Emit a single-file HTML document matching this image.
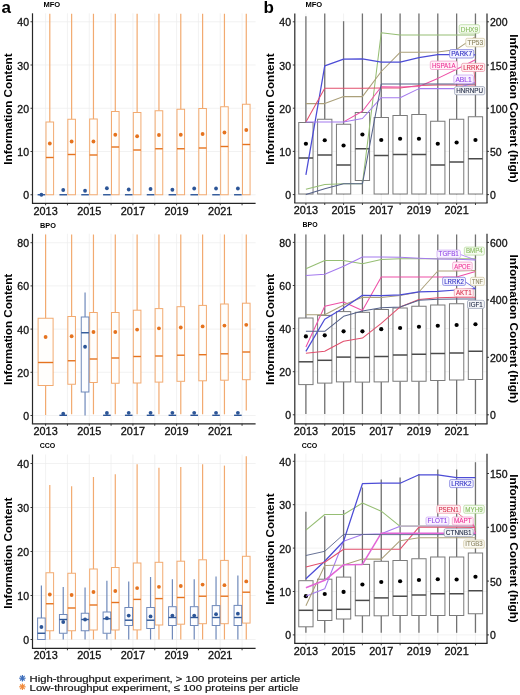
<!DOCTYPE html>
<html><head><meta charset="utf-8"><title>Information Content</title>
<style>html,body{margin:0;padding:0;background:#fff;} svg{display:block;will-change:transform;} text{font-family:"Liberation Sans", sans-serif;}</style>
</head><body>
<svg width="520" height="695" viewBox="0 0 520 695" font-family='"Liberation Sans", sans-serif'><rect x="0" y="0" width="520" height="695" fill="#fff"/>
<line x1="33.50" y1="194.75" x2="255.60" y2="194.75" stroke="#EDEDED" stroke-width="0.7" />
<line x1="33.50" y1="151.50" x2="255.60" y2="151.50" stroke="#EDEDED" stroke-width="0.7" />
<line x1="33.50" y1="108.25" x2="255.60" y2="108.25" stroke="#EDEDED" stroke-width="0.7" />
<line x1="33.50" y1="65.00" x2="255.60" y2="65.00" stroke="#EDEDED" stroke-width="0.7" />
<line x1="33.50" y1="21.75" x2="255.60" y2="21.75" stroke="#EDEDED" stroke-width="0.7" />
<line x1="45.60" y1="13.30" x2="45.60" y2="203.30" stroke="#EDEDED" stroke-width="0.7" />
<line x1="67.43" y1="13.30" x2="67.43" y2="203.30" stroke="#EDEDED" stroke-width="0.7" />
<line x1="89.26" y1="13.30" x2="89.26" y2="203.30" stroke="#EDEDED" stroke-width="0.7" />
<line x1="111.09" y1="13.30" x2="111.09" y2="203.30" stroke="#EDEDED" stroke-width="0.7" />
<line x1="132.92" y1="13.30" x2="132.92" y2="203.30" stroke="#EDEDED" stroke-width="0.7" />
<line x1="154.75" y1="13.30" x2="154.75" y2="203.30" stroke="#EDEDED" stroke-width="0.7" />
<line x1="176.58" y1="13.30" x2="176.58" y2="203.30" stroke="#EDEDED" stroke-width="0.7" />
<line x1="198.41" y1="13.30" x2="198.41" y2="203.30" stroke="#EDEDED" stroke-width="0.7" />
<line x1="220.24" y1="13.30" x2="220.24" y2="203.30" stroke="#EDEDED" stroke-width="0.7" />
<line x1="242.07" y1="13.30" x2="242.07" y2="203.30" stroke="#EDEDED" stroke-width="0.7" />
<line x1="49.80" y1="13.75" x2="49.80" y2="122.00" stroke="#F2AA70" stroke-width="1.2" />
<line x1="49.80" y1="194.75" x2="49.80" y2="194.75" stroke="#F2AA70" stroke-width="1.2" />
<rect x="46.00" y="122.00" width="7.60" height="72.75" stroke="#F2AA70" fill="#FFFEFC" stroke-width="1.0" rx="0"/>
<line x1="46.00" y1="157.50" x2="53.60" y2="157.50" stroke="#E5731F" stroke-width="1.4" />
<circle cx="49.80" cy="143.50" r="1.9" fill="#E5731F"/>
<line x1="71.63" y1="13.75" x2="71.63" y2="119.25" stroke="#F2AA70" stroke-width="1.2" />
<line x1="71.63" y1="194.75" x2="71.63" y2="194.75" stroke="#F2AA70" stroke-width="1.2" />
<rect x="67.83" y="119.25" width="7.60" height="75.50" stroke="#F2AA70" fill="#FFFEFC" stroke-width="1.0" rx="0"/>
<line x1="67.83" y1="154.50" x2="75.43" y2="154.50" stroke="#E5731F" stroke-width="1.4" />
<circle cx="71.63" cy="141.50" r="1.9" fill="#E5731F"/>
<line x1="93.46" y1="13.75" x2="93.46" y2="119.00" stroke="#F2AA70" stroke-width="1.2" />
<line x1="93.46" y1="194.75" x2="93.46" y2="194.75" stroke="#F2AA70" stroke-width="1.2" />
<rect x="89.66" y="119.00" width="7.60" height="75.75" stroke="#F2AA70" fill="#FFFEFC" stroke-width="1.0" rx="0"/>
<line x1="89.66" y1="155.00" x2="97.26" y2="155.00" stroke="#E5731F" stroke-width="1.4" />
<circle cx="93.46" cy="141.50" r="1.9" fill="#E5731F"/>
<line x1="115.29" y1="13.75" x2="115.29" y2="111.50" stroke="#F2AA70" stroke-width="1.2" />
<line x1="115.29" y1="194.75" x2="115.29" y2="194.75" stroke="#F2AA70" stroke-width="1.2" />
<rect x="111.49" y="111.50" width="7.60" height="83.25" stroke="#F2AA70" fill="#FFFEFC" stroke-width="1.0" rx="0"/>
<line x1="111.49" y1="147.00" x2="119.09" y2="147.00" stroke="#E5731F" stroke-width="1.4" />
<circle cx="115.29" cy="134.75" r="1.9" fill="#E5731F"/>
<line x1="137.12" y1="13.75" x2="137.12" y2="112.50" stroke="#F2AA70" stroke-width="1.2" />
<line x1="137.12" y1="194.75" x2="137.12" y2="194.75" stroke="#F2AA70" stroke-width="1.2" />
<rect x="133.32" y="112.50" width="7.60" height="82.25" stroke="#F2AA70" fill="#FFFEFC" stroke-width="1.0" rx="0"/>
<line x1="133.32" y1="150.00" x2="140.92" y2="150.00" stroke="#E5731F" stroke-width="1.4" />
<circle cx="137.12" cy="136.25" r="1.9" fill="#E5731F"/>
<line x1="158.95" y1="13.75" x2="158.95" y2="110.75" stroke="#F2AA70" stroke-width="1.2" />
<line x1="158.95" y1="194.75" x2="158.95" y2="194.75" stroke="#F2AA70" stroke-width="1.2" />
<rect x="155.15" y="110.75" width="7.60" height="84.00" stroke="#F2AA70" fill="#FFFEFC" stroke-width="1.0" rx="0"/>
<line x1="155.15" y1="148.75" x2="162.75" y2="148.75" stroke="#E5731F" stroke-width="1.4" />
<circle cx="158.95" cy="135.00" r="1.9" fill="#E5731F"/>
<line x1="180.78" y1="13.75" x2="180.78" y2="109.25" stroke="#F2AA70" stroke-width="1.2" />
<line x1="180.78" y1="194.75" x2="180.78" y2="194.75" stroke="#F2AA70" stroke-width="1.2" />
<rect x="176.98" y="109.25" width="7.60" height="85.50" stroke="#F2AA70" fill="#FFFEFC" stroke-width="1.0" rx="0"/>
<line x1="176.98" y1="148.75" x2="184.58" y2="148.75" stroke="#E5731F" stroke-width="1.4" />
<circle cx="180.78" cy="134.75" r="1.9" fill="#E5731F"/>
<line x1="202.61" y1="13.75" x2="202.61" y2="108.50" stroke="#F2AA70" stroke-width="1.2" />
<line x1="202.61" y1="194.75" x2="202.61" y2="194.75" stroke="#F2AA70" stroke-width="1.2" />
<rect x="198.81" y="108.50" width="7.60" height="86.25" stroke="#F2AA70" fill="#FFFEFC" stroke-width="1.0" rx="0"/>
<line x1="198.81" y1="148.00" x2="206.41" y2="148.00" stroke="#E5731F" stroke-width="1.4" />
<circle cx="202.61" cy="134.00" r="1.9" fill="#E5731F"/>
<line x1="224.44" y1="13.75" x2="224.44" y2="106.75" stroke="#F2AA70" stroke-width="1.2" />
<line x1="224.44" y1="194.75" x2="224.44" y2="194.75" stroke="#F2AA70" stroke-width="1.2" />
<rect x="220.64" y="106.75" width="7.60" height="88.00" stroke="#F2AA70" fill="#FFFEFC" stroke-width="1.0" rx="0"/>
<line x1="220.64" y1="146.50" x2="228.24" y2="146.50" stroke="#E5731F" stroke-width="1.4" />
<circle cx="224.44" cy="132.50" r="1.9" fill="#E5731F"/>
<line x1="246.27" y1="13.75" x2="246.27" y2="104.25" stroke="#F2AA70" stroke-width="1.2" />
<line x1="246.27" y1="194.75" x2="246.27" y2="194.75" stroke="#F2AA70" stroke-width="1.2" />
<rect x="242.47" y="104.25" width="7.60" height="90.50" stroke="#F2AA70" fill="#FFFEFC" stroke-width="1.0" rx="0"/>
<line x1="242.47" y1="144.50" x2="250.07" y2="144.50" stroke="#E5731F" stroke-width="1.4" />
<circle cx="246.27" cy="130.00" r="1.9" fill="#E5731F"/>
<line x1="37.60" y1="194.75" x2="45.20" y2="194.75" stroke="#2C5597" stroke-width="1.4" />
<circle cx="41.40" cy="194.75" r="1.9" fill="#2C5597"/>
<line x1="59.43" y1="194.75" x2="67.03" y2="194.75" stroke="#2C5597" stroke-width="1.4" />
<circle cx="63.23" cy="190.00" r="1.9" fill="#2C5597"/>
<line x1="81.26" y1="194.75" x2="88.86" y2="194.75" stroke="#2C5597" stroke-width="1.4" />
<circle cx="85.06" cy="190.75" r="1.9" fill="#2C5597"/>
<line x1="103.09" y1="194.75" x2="110.69" y2="194.75" stroke="#2C5597" stroke-width="1.4" />
<circle cx="106.89" cy="188.25" r="1.9" fill="#2C5597"/>
<line x1="124.92" y1="194.75" x2="132.52" y2="194.75" stroke="#2C5597" stroke-width="1.4" />
<circle cx="128.72" cy="189.50" r="1.9" fill="#2C5597"/>
<line x1="146.75" y1="194.75" x2="154.35" y2="194.75" stroke="#2C5597" stroke-width="1.4" />
<circle cx="150.55" cy="189.00" r="1.9" fill="#2C5597"/>
<line x1="168.58" y1="194.75" x2="176.18" y2="194.75" stroke="#2C5597" stroke-width="1.4" />
<circle cx="172.38" cy="189.75" r="1.9" fill="#2C5597"/>
<line x1="190.41" y1="194.75" x2="198.01" y2="194.75" stroke="#2C5597" stroke-width="1.4" />
<circle cx="194.21" cy="188.50" r="1.9" fill="#2C5597"/>
<line x1="212.24" y1="194.75" x2="219.84" y2="194.75" stroke="#2C5597" stroke-width="1.4" />
<circle cx="216.04" cy="188.50" r="1.9" fill="#2C5597"/>
<line x1="234.07" y1="194.75" x2="241.67" y2="194.75" stroke="#2C5597" stroke-width="1.4" />
<circle cx="237.87" cy="188.50" r="1.9" fill="#2C5597"/>
<line x1="32.50" y1="13.30" x2="32.50" y2="203.30" stroke="#262626" stroke-width="1.2" />
<line x1="31.90" y1="203.30" x2="255.60" y2="203.30" stroke="#262626" stroke-width="1.2" />
<line x1="30.50" y1="194.75" x2="32.50" y2="194.75" stroke="#262626" stroke-width="0.9" />
<text x="29.00" y="199.25" font-size="10.5" text-anchor="end" font-weight="normal" fill="#111" stroke="#111" stroke-width="0.3">0</text>
<line x1="30.50" y1="151.50" x2="32.50" y2="151.50" stroke="#262626" stroke-width="0.9" />
<text x="29.00" y="156.00" font-size="10.5" text-anchor="end" font-weight="normal" fill="#111" stroke="#111" stroke-width="0.3">10</text>
<line x1="30.50" y1="108.25" x2="32.50" y2="108.25" stroke="#262626" stroke-width="0.9" />
<text x="29.00" y="112.75" font-size="10.5" text-anchor="end" font-weight="normal" fill="#111" stroke="#111" stroke-width="0.3">20</text>
<line x1="30.50" y1="65.00" x2="32.50" y2="65.00" stroke="#262626" stroke-width="0.9" />
<text x="29.00" y="69.50" font-size="10.5" text-anchor="end" font-weight="normal" fill="#111" stroke="#111" stroke-width="0.3">30</text>
<line x1="30.50" y1="21.75" x2="32.50" y2="21.75" stroke="#262626" stroke-width="0.9" />
<text x="29.00" y="26.25" font-size="10.5" text-anchor="end" font-weight="normal" fill="#111" stroke="#111" stroke-width="0.3">40</text>
<line x1="45.60" y1="203.30" x2="45.60" y2="205.30" stroke="#262626" stroke-width="0.9" />
<text x="45.60" y="214.60" font-size="10.5" text-anchor="middle" font-weight="normal" fill="#111" textLength="24.2" lengthAdjust="spacingAndGlyphs" stroke="#111" stroke-width="0.3">2013</text>
<line x1="67.43" y1="203.30" x2="67.43" y2="205.30" stroke="#262626" stroke-width="0.9" />
<line x1="89.26" y1="203.30" x2="89.26" y2="205.30" stroke="#262626" stroke-width="0.9" />
<text x="89.26" y="214.60" font-size="10.5" text-anchor="middle" font-weight="normal" fill="#111" textLength="24.2" lengthAdjust="spacingAndGlyphs" stroke="#111" stroke-width="0.3">2015</text>
<line x1="111.09" y1="203.30" x2="111.09" y2="205.30" stroke="#262626" stroke-width="0.9" />
<line x1="132.92" y1="203.30" x2="132.92" y2="205.30" stroke="#262626" stroke-width="0.9" />
<text x="132.92" y="214.60" font-size="10.5" text-anchor="middle" font-weight="normal" fill="#111" textLength="24.2" lengthAdjust="spacingAndGlyphs" stroke="#111" stroke-width="0.3">2017</text>
<line x1="154.75" y1="203.30" x2="154.75" y2="205.30" stroke="#262626" stroke-width="0.9" />
<line x1="176.58" y1="203.30" x2="176.58" y2="205.30" stroke="#262626" stroke-width="0.9" />
<text x="176.58" y="214.60" font-size="10.5" text-anchor="middle" font-weight="normal" fill="#111" textLength="24.2" lengthAdjust="spacingAndGlyphs" stroke="#111" stroke-width="0.3">2019</text>
<line x1="198.41" y1="203.30" x2="198.41" y2="205.30" stroke="#262626" stroke-width="0.9" />
<line x1="220.24" y1="203.30" x2="220.24" y2="205.30" stroke="#262626" stroke-width="0.9" />
<text x="220.24" y="214.60" font-size="10.5" text-anchor="middle" font-weight="normal" fill="#111" textLength="24.2" lengthAdjust="spacingAndGlyphs" stroke="#111" stroke-width="0.3">2021</text>
<line x1="242.07" y1="203.30" x2="242.07" y2="205.30" stroke="#262626" stroke-width="0.9" />
<text x="43.40" y="6.95" font-size="7.6" text-anchor="start" font-weight="bold" fill="#000" textLength="16.8" lengthAdjust="spacingAndGlyphs" >MFO</text>
<text x="12.20" y="109.05" font-size="11" text-anchor="middle" font-weight="bold" fill="#000" transform="rotate(-90 12.20 109.05)" textLength="111.3" lengthAdjust="spacingAndGlyphs" >Information Content</text>
<line x1="33.50" y1="415.50" x2="255.60" y2="415.50" stroke="#EDEDED" stroke-width="0.7" />
<line x1="33.50" y1="372.30" x2="255.60" y2="372.30" stroke="#EDEDED" stroke-width="0.7" />
<line x1="33.50" y1="329.10" x2="255.60" y2="329.10" stroke="#EDEDED" stroke-width="0.7" />
<line x1="33.50" y1="285.90" x2="255.60" y2="285.90" stroke="#EDEDED" stroke-width="0.7" />
<line x1="33.50" y1="242.70" x2="255.60" y2="242.70" stroke="#EDEDED" stroke-width="0.7" />
<line x1="45.60" y1="233.75" x2="45.60" y2="423.80" stroke="#EDEDED" stroke-width="0.7" />
<line x1="67.43" y1="233.75" x2="67.43" y2="423.80" stroke="#EDEDED" stroke-width="0.7" />
<line x1="89.26" y1="233.75" x2="89.26" y2="423.80" stroke="#EDEDED" stroke-width="0.7" />
<line x1="111.09" y1="233.75" x2="111.09" y2="423.80" stroke="#EDEDED" stroke-width="0.7" />
<line x1="132.92" y1="233.75" x2="132.92" y2="423.80" stroke="#EDEDED" stroke-width="0.7" />
<line x1="154.75" y1="233.75" x2="154.75" y2="423.80" stroke="#EDEDED" stroke-width="0.7" />
<line x1="176.58" y1="233.75" x2="176.58" y2="423.80" stroke="#EDEDED" stroke-width="0.7" />
<line x1="198.41" y1="233.75" x2="198.41" y2="423.80" stroke="#EDEDED" stroke-width="0.7" />
<line x1="220.24" y1="233.75" x2="220.24" y2="423.80" stroke="#EDEDED" stroke-width="0.7" />
<line x1="242.07" y1="233.75" x2="242.07" y2="423.80" stroke="#EDEDED" stroke-width="0.7" />
<line x1="45.60" y1="234.50" x2="45.60" y2="318.25" stroke="#F2AA70" stroke-width="1.2" />
<line x1="45.60" y1="385.50" x2="45.60" y2="415.00" stroke="#F2AA70" stroke-width="1.2" />
<rect x="38.10" y="318.25" width="15.00" height="67.25" stroke="#F2AA70" fill="#FFFEFC" stroke-width="1.0" rx="0"/>
<line x1="38.10" y1="362.50" x2="53.10" y2="362.50" stroke="#E5731F" stroke-width="1.4" />
<circle cx="45.60" cy="337.00" r="1.9" fill="#E5731F"/>
<line x1="71.63" y1="234.50" x2="71.63" y2="316.50" stroke="#F2AA70" stroke-width="1.2" />
<line x1="71.63" y1="384.25" x2="71.63" y2="414.30" stroke="#F2AA70" stroke-width="1.2" />
<rect x="67.83" y="316.50" width="7.60" height="67.75" stroke="#F2AA70" fill="#FFFEFC" stroke-width="1.0" rx="0"/>
<line x1="67.83" y1="360.75" x2="75.43" y2="360.75" stroke="#E5731F" stroke-width="1.4" />
<circle cx="71.63" cy="336.25" r="1.9" fill="#E5731F"/>
<line x1="93.46" y1="234.50" x2="93.46" y2="312.50" stroke="#F2AA70" stroke-width="1.2" />
<line x1="93.46" y1="382.50" x2="93.46" y2="414.30" stroke="#F2AA70" stroke-width="1.2" />
<rect x="89.66" y="312.50" width="7.60" height="70.00" stroke="#F2AA70" fill="#FFFEFC" stroke-width="1.0" rx="0"/>
<line x1="89.66" y1="359.00" x2="97.26" y2="359.00" stroke="#E5731F" stroke-width="1.4" />
<circle cx="93.46" cy="332.00" r="1.9" fill="#E5731F"/>
<line x1="115.29" y1="234.50" x2="115.29" y2="312.50" stroke="#F2AA70" stroke-width="1.2" />
<line x1="115.29" y1="383.25" x2="115.29" y2="414.30" stroke="#F2AA70" stroke-width="1.2" />
<rect x="111.49" y="312.50" width="7.60" height="70.75" stroke="#F2AA70" fill="#FFFEFC" stroke-width="1.0" rx="0"/>
<line x1="111.49" y1="358.00" x2="119.09" y2="358.00" stroke="#E5731F" stroke-width="1.4" />
<circle cx="115.29" cy="332.00" r="1.9" fill="#E5731F"/>
<line x1="137.12" y1="234.50" x2="137.12" y2="310.20" stroke="#F2AA70" stroke-width="1.2" />
<line x1="137.12" y1="383.00" x2="137.12" y2="414.30" stroke="#F2AA70" stroke-width="1.2" />
<rect x="133.32" y="310.20" width="7.60" height="72.80" stroke="#F2AA70" fill="#FFFEFC" stroke-width="1.0" rx="0"/>
<line x1="133.32" y1="356.50" x2="140.92" y2="356.50" stroke="#E5731F" stroke-width="1.4" />
<circle cx="137.12" cy="329.60" r="1.9" fill="#E5731F"/>
<line x1="158.95" y1="234.50" x2="158.95" y2="308.60" stroke="#F2AA70" stroke-width="1.2" />
<line x1="158.95" y1="382.10" x2="158.95" y2="414.30" stroke="#F2AA70" stroke-width="1.2" />
<rect x="155.15" y="308.60" width="7.60" height="73.50" stroke="#F2AA70" fill="#FFFEFC" stroke-width="1.0" rx="0"/>
<line x1="155.15" y1="356.00" x2="162.75" y2="356.00" stroke="#E5731F" stroke-width="1.4" />
<circle cx="158.95" cy="328.30" r="1.9" fill="#E5731F"/>
<line x1="180.78" y1="234.50" x2="180.78" y2="306.70" stroke="#F2AA70" stroke-width="1.2" />
<line x1="180.78" y1="381.30" x2="180.78" y2="414.30" stroke="#F2AA70" stroke-width="1.2" />
<rect x="176.98" y="306.70" width="7.60" height="74.60" stroke="#F2AA70" fill="#FFFEFC" stroke-width="1.0" rx="0"/>
<line x1="176.98" y1="355.20" x2="184.58" y2="355.20" stroke="#E5731F" stroke-width="1.4" />
<circle cx="180.78" cy="327.50" r="1.9" fill="#E5731F"/>
<line x1="202.61" y1="234.50" x2="202.61" y2="305.40" stroke="#F2AA70" stroke-width="1.2" />
<line x1="202.61" y1="380.80" x2="202.61" y2="414.30" stroke="#F2AA70" stroke-width="1.2" />
<rect x="198.81" y="305.40" width="7.60" height="75.40" stroke="#F2AA70" fill="#FFFEFC" stroke-width="1.0" rx="0"/>
<line x1="198.81" y1="354.70" x2="206.41" y2="354.70" stroke="#E5731F" stroke-width="1.4" />
<circle cx="202.61" cy="326.40" r="1.9" fill="#E5731F"/>
<line x1="224.44" y1="234.50" x2="224.44" y2="304.00" stroke="#F2AA70" stroke-width="1.2" />
<line x1="224.44" y1="380.20" x2="224.44" y2="414.30" stroke="#F2AA70" stroke-width="1.2" />
<rect x="220.64" y="304.00" width="7.60" height="76.20" stroke="#F2AA70" fill="#FFFEFC" stroke-width="1.0" rx="0"/>
<line x1="220.64" y1="353.80" x2="228.24" y2="353.80" stroke="#E5731F" stroke-width="1.4" />
<circle cx="224.44" cy="325.60" r="1.9" fill="#E5731F"/>
<line x1="246.27" y1="234.50" x2="246.27" y2="303.20" stroke="#F2AA70" stroke-width="1.2" />
<line x1="246.27" y1="379.70" x2="246.27" y2="410.50" stroke="#F2AA70" stroke-width="1.2" />
<rect x="242.47" y="303.20" width="7.60" height="76.50" stroke="#F2AA70" fill="#FFFEFC" stroke-width="1.0" rx="0"/>
<line x1="242.47" y1="352.00" x2="250.07" y2="352.00" stroke="#E5731F" stroke-width="1.4" />
<circle cx="246.27" cy="324.80" r="1.9" fill="#E5731F"/>
<line x1="59.43" y1="415.30" x2="67.03" y2="415.30" stroke="#2C5597" stroke-width="1.4" />
<circle cx="63.23" cy="413.75" r="1.9" fill="#2C5597"/>
<line x1="85.06" y1="292.50" x2="85.06" y2="317.00" stroke="#6F89BA" stroke-width="1.2" />
<line x1="85.06" y1="392.00" x2="85.06" y2="415.50" stroke="#6F89BA" stroke-width="1.2" />
<rect x="81.26" y="317.00" width="7.60" height="75.00" stroke="#6F89BA" fill="#FCFDFF" stroke-width="1.0" rx="0"/>
<line x1="81.26" y1="332.75" x2="88.86" y2="332.75" stroke="#2C5597" stroke-width="1.4" />
<circle cx="85.06" cy="346.75" r="1.9" fill="#2C5597"/>
<line x1="103.09" y1="415.30" x2="110.69" y2="415.30" stroke="#2C5597" stroke-width="1.4" />
<circle cx="106.89" cy="413.00" r="1.9" fill="#2C5597"/>
<line x1="124.92" y1="415.30" x2="132.52" y2="415.30" stroke="#2C5597" stroke-width="1.4" />
<circle cx="128.72" cy="412.80" r="1.9" fill="#2C5597"/>
<line x1="146.75" y1="415.30" x2="154.35" y2="415.30" stroke="#2C5597" stroke-width="1.4" />
<circle cx="150.55" cy="412.80" r="1.9" fill="#2C5597"/>
<line x1="168.58" y1="415.30" x2="176.18" y2="415.30" stroke="#2C5597" stroke-width="1.4" />
<circle cx="172.38" cy="412.80" r="1.9" fill="#2C5597"/>
<line x1="190.41" y1="415.30" x2="198.01" y2="415.30" stroke="#2C5597" stroke-width="1.4" />
<circle cx="194.21" cy="412.80" r="1.9" fill="#2C5597"/>
<line x1="212.24" y1="415.30" x2="219.84" y2="415.30" stroke="#2C5597" stroke-width="1.4" />
<circle cx="216.04" cy="412.80" r="1.9" fill="#2C5597"/>
<line x1="234.07" y1="415.30" x2="241.67" y2="415.30" stroke="#2C5597" stroke-width="1.4" />
<circle cx="237.87" cy="412.80" r="1.9" fill="#2C5597"/>
<line x1="32.50" y1="233.75" x2="32.50" y2="423.80" stroke="#262626" stroke-width="1.2" />
<line x1="31.90" y1="423.80" x2="255.60" y2="423.80" stroke="#262626" stroke-width="1.2" />
<line x1="30.50" y1="415.50" x2="32.50" y2="415.50" stroke="#262626" stroke-width="0.9" />
<text x="29.00" y="420.00" font-size="10.5" text-anchor="end" font-weight="normal" fill="#111" stroke="#111" stroke-width="0.3">0</text>
<line x1="30.50" y1="372.30" x2="32.50" y2="372.30" stroke="#262626" stroke-width="0.9" />
<text x="29.00" y="376.80" font-size="10.5" text-anchor="end" font-weight="normal" fill="#111" stroke="#111" stroke-width="0.3">20</text>
<line x1="30.50" y1="329.10" x2="32.50" y2="329.10" stroke="#262626" stroke-width="0.9" />
<text x="29.00" y="333.60" font-size="10.5" text-anchor="end" font-weight="normal" fill="#111" stroke="#111" stroke-width="0.3">40</text>
<line x1="30.50" y1="285.90" x2="32.50" y2="285.90" stroke="#262626" stroke-width="0.9" />
<text x="29.00" y="290.40" font-size="10.5" text-anchor="end" font-weight="normal" fill="#111" stroke="#111" stroke-width="0.3">60</text>
<line x1="30.50" y1="242.70" x2="32.50" y2="242.70" stroke="#262626" stroke-width="0.9" />
<text x="29.00" y="247.20" font-size="10.5" text-anchor="end" font-weight="normal" fill="#111" stroke="#111" stroke-width="0.3">80</text>
<line x1="45.60" y1="423.80" x2="45.60" y2="425.80" stroke="#262626" stroke-width="0.9" />
<text x="45.60" y="434.70" font-size="10.5" text-anchor="middle" font-weight="normal" fill="#111" textLength="24.2" lengthAdjust="spacingAndGlyphs" stroke="#111" stroke-width="0.3">2013</text>
<line x1="67.43" y1="423.80" x2="67.43" y2="425.80" stroke="#262626" stroke-width="0.9" />
<line x1="89.26" y1="423.80" x2="89.26" y2="425.80" stroke="#262626" stroke-width="0.9" />
<text x="89.26" y="434.70" font-size="10.5" text-anchor="middle" font-weight="normal" fill="#111" textLength="24.2" lengthAdjust="spacingAndGlyphs" stroke="#111" stroke-width="0.3">2015</text>
<line x1="111.09" y1="423.80" x2="111.09" y2="425.80" stroke="#262626" stroke-width="0.9" />
<line x1="132.92" y1="423.80" x2="132.92" y2="425.80" stroke="#262626" stroke-width="0.9" />
<text x="132.92" y="434.70" font-size="10.5" text-anchor="middle" font-weight="normal" fill="#111" textLength="24.2" lengthAdjust="spacingAndGlyphs" stroke="#111" stroke-width="0.3">2017</text>
<line x1="154.75" y1="423.80" x2="154.75" y2="425.80" stroke="#262626" stroke-width="0.9" />
<line x1="176.58" y1="423.80" x2="176.58" y2="425.80" stroke="#262626" stroke-width="0.9" />
<text x="176.58" y="434.70" font-size="10.5" text-anchor="middle" font-weight="normal" fill="#111" textLength="24.2" lengthAdjust="spacingAndGlyphs" stroke="#111" stroke-width="0.3">2019</text>
<line x1="198.41" y1="423.80" x2="198.41" y2="425.80" stroke="#262626" stroke-width="0.9" />
<line x1="220.24" y1="423.80" x2="220.24" y2="425.80" stroke="#262626" stroke-width="0.9" />
<text x="220.24" y="434.70" font-size="10.5" text-anchor="middle" font-weight="normal" fill="#111" textLength="24.2" lengthAdjust="spacingAndGlyphs" stroke="#111" stroke-width="0.3">2021</text>
<line x1="242.07" y1="423.80" x2="242.07" y2="425.80" stroke="#262626" stroke-width="0.9" />
<text x="40.00" y="227.50" font-size="7.6" text-anchor="start" font-weight="bold" fill="#000" textLength="15.9" lengthAdjust="spacingAndGlyphs" >BPO</text>
<text x="12.20" y="329.40" font-size="11" text-anchor="middle" font-weight="bold" fill="#000" transform="rotate(-90 12.20 329.40)" textLength="111.3" lengthAdjust="spacingAndGlyphs" >Information Content</text>
<line x1="33.50" y1="639.50" x2="255.60" y2="639.50" stroke="#EDEDED" stroke-width="0.7" />
<line x1="33.50" y1="595.50" x2="255.60" y2="595.50" stroke="#EDEDED" stroke-width="0.7" />
<line x1="33.50" y1="551.50" x2="255.60" y2="551.50" stroke="#EDEDED" stroke-width="0.7" />
<line x1="33.50" y1="507.50" x2="255.60" y2="507.50" stroke="#EDEDED" stroke-width="0.7" />
<line x1="33.50" y1="463.50" x2="255.60" y2="463.50" stroke="#EDEDED" stroke-width="0.7" />
<line x1="45.60" y1="454.50" x2="45.60" y2="648.30" stroke="#EDEDED" stroke-width="0.7" />
<line x1="67.43" y1="454.50" x2="67.43" y2="648.30" stroke="#EDEDED" stroke-width="0.7" />
<line x1="89.26" y1="454.50" x2="89.26" y2="648.30" stroke="#EDEDED" stroke-width="0.7" />
<line x1="111.09" y1="454.50" x2="111.09" y2="648.30" stroke="#EDEDED" stroke-width="0.7" />
<line x1="132.92" y1="454.50" x2="132.92" y2="648.30" stroke="#EDEDED" stroke-width="0.7" />
<line x1="154.75" y1="454.50" x2="154.75" y2="648.30" stroke="#EDEDED" stroke-width="0.7" />
<line x1="176.58" y1="454.50" x2="176.58" y2="648.30" stroke="#EDEDED" stroke-width="0.7" />
<line x1="198.41" y1="454.50" x2="198.41" y2="648.30" stroke="#EDEDED" stroke-width="0.7" />
<line x1="220.24" y1="454.50" x2="220.24" y2="648.30" stroke="#EDEDED" stroke-width="0.7" />
<line x1="242.07" y1="454.50" x2="242.07" y2="648.30" stroke="#EDEDED" stroke-width="0.7" />
<line x1="49.80" y1="485.00" x2="49.80" y2="572.75" stroke="#F2AA70" stroke-width="1.2" />
<line x1="49.80" y1="630.75" x2="49.80" y2="639.50" stroke="#F2AA70" stroke-width="1.2" />
<rect x="46.00" y="572.75" width="7.60" height="58.00" stroke="#F2AA70" fill="#FFFEFC" stroke-width="1.0" rx="0"/>
<line x1="46.00" y1="603.75" x2="53.60" y2="603.75" stroke="#E5731F" stroke-width="1.4" />
<circle cx="49.80" cy="594.50" r="1.9" fill="#E5731F"/>
<line x1="71.63" y1="486.25" x2="71.63" y2="573.25" stroke="#F2AA70" stroke-width="1.2" />
<line x1="71.63" y1="630.75" x2="71.63" y2="639.50" stroke="#F2AA70" stroke-width="1.2" />
<rect x="67.83" y="573.25" width="7.60" height="57.50" stroke="#F2AA70" fill="#FFFEFC" stroke-width="1.0" rx="0"/>
<line x1="67.83" y1="608.00" x2="75.43" y2="608.00" stroke="#E5731F" stroke-width="1.4" />
<circle cx="71.63" cy="595.00" r="1.9" fill="#E5731F"/>
<line x1="93.46" y1="477.00" x2="93.46" y2="569.00" stroke="#F2AA70" stroke-width="1.2" />
<line x1="93.46" y1="630.00" x2="93.46" y2="639.50" stroke="#F2AA70" stroke-width="1.2" />
<rect x="89.66" y="569.00" width="7.60" height="61.00" stroke="#F2AA70" fill="#FFFEFC" stroke-width="1.0" rx="0"/>
<line x1="89.66" y1="605.00" x2="97.26" y2="605.00" stroke="#E5731F" stroke-width="1.4" />
<circle cx="93.46" cy="592.00" r="1.9" fill="#E5731F"/>
<line x1="115.29" y1="474.25" x2="115.29" y2="567.50" stroke="#F2AA70" stroke-width="1.2" />
<line x1="115.29" y1="630.00" x2="115.29" y2="639.50" stroke="#F2AA70" stroke-width="1.2" />
<rect x="111.49" y="567.50" width="7.60" height="62.50" stroke="#F2AA70" fill="#FFFEFC" stroke-width="1.0" rx="0"/>
<line x1="111.49" y1="602.50" x2="119.09" y2="602.50" stroke="#E5731F" stroke-width="1.4" />
<circle cx="115.29" cy="591.00" r="1.9" fill="#E5731F"/>
<line x1="137.12" y1="464.20" x2="137.12" y2="563.00" stroke="#F2AA70" stroke-width="1.2" />
<line x1="137.12" y1="629.90" x2="137.12" y2="639.50" stroke="#F2AA70" stroke-width="1.2" />
<rect x="133.32" y="563.00" width="7.60" height="66.90" stroke="#F2AA70" fill="#FFFEFC" stroke-width="1.0" rx="0"/>
<line x1="133.32" y1="599.40" x2="140.92" y2="599.40" stroke="#E5731F" stroke-width="1.4" />
<circle cx="137.12" cy="588.10" r="1.9" fill="#E5731F"/>
<line x1="158.95" y1="467.70" x2="158.95" y2="562.30" stroke="#F2AA70" stroke-width="1.2" />
<line x1="158.95" y1="625.00" x2="158.95" y2="639.50" stroke="#F2AA70" stroke-width="1.2" />
<rect x="155.15" y="562.30" width="7.60" height="62.70" stroke="#F2AA70" fill="#FFFEFC" stroke-width="1.0" rx="0"/>
<line x1="155.15" y1="598.60" x2="162.75" y2="598.60" stroke="#E5731F" stroke-width="1.4" />
<circle cx="158.95" cy="586.80" r="1.9" fill="#E5731F"/>
<line x1="180.78" y1="466.90" x2="180.78" y2="561.20" stroke="#F2AA70" stroke-width="1.2" />
<line x1="180.78" y1="624.20" x2="180.78" y2="639.50" stroke="#F2AA70" stroke-width="1.2" />
<rect x="176.98" y="561.20" width="7.60" height="63.00" stroke="#F2AA70" fill="#FFFEFC" stroke-width="1.0" rx="0"/>
<line x1="176.98" y1="597.50" x2="184.58" y2="597.50" stroke="#E5731F" stroke-width="1.4" />
<circle cx="180.78" cy="586.00" r="1.9" fill="#E5731F"/>
<line x1="202.61" y1="464.20" x2="202.61" y2="559.80" stroke="#F2AA70" stroke-width="1.2" />
<line x1="202.61" y1="623.70" x2="202.61" y2="639.50" stroke="#F2AA70" stroke-width="1.2" />
<rect x="198.81" y="559.80" width="7.60" height="63.90" stroke="#F2AA70" fill="#FFFEFC" stroke-width="1.0" rx="0"/>
<line x1="198.81" y1="596.20" x2="206.41" y2="596.20" stroke="#E5731F" stroke-width="1.4" />
<circle cx="202.61" cy="584.60" r="1.9" fill="#E5731F"/>
<line x1="224.44" y1="465.60" x2="224.44" y2="560.40" stroke="#F2AA70" stroke-width="1.2" />
<line x1="224.44" y1="623.70" x2="224.44" y2="639.50" stroke="#F2AA70" stroke-width="1.2" />
<rect x="220.64" y="560.40" width="7.60" height="63.30" stroke="#F2AA70" fill="#FFFEFC" stroke-width="1.0" rx="0"/>
<line x1="220.64" y1="596.20" x2="228.24" y2="596.20" stroke="#E5731F" stroke-width="1.4" />
<circle cx="224.44" cy="585.20" r="1.9" fill="#E5731F"/>
<line x1="246.27" y1="456.20" x2="246.27" y2="556.30" stroke="#F2AA70" stroke-width="1.2" />
<line x1="246.27" y1="623.10" x2="246.27" y2="639.50" stroke="#F2AA70" stroke-width="1.2" />
<rect x="242.47" y="556.30" width="7.60" height="66.80" stroke="#F2AA70" fill="#FFFEFC" stroke-width="1.0" rx="0"/>
<line x1="242.47" y1="592.20" x2="250.07" y2="592.20" stroke="#E5731F" stroke-width="1.4" />
<circle cx="246.27" cy="581.40" r="1.9" fill="#E5731F"/>
<line x1="41.40" y1="585.50" x2="41.40" y2="618.00" stroke="#6F89BA" stroke-width="1.2" />
<line x1="41.40" y1="639.50" x2="41.40" y2="639.50" stroke="#6F89BA" stroke-width="1.2" />
<rect x="37.60" y="618.00" width="7.60" height="21.50" stroke="#6F89BA" fill="#FCFDFF" stroke-width="1.0" rx="0"/>
<line x1="37.60" y1="633.25" x2="45.20" y2="633.25" stroke="#2C5597" stroke-width="1.4" />
<circle cx="41.40" cy="627.00" r="1.9" fill="#2C5597"/>
<line x1="63.23" y1="587.00" x2="63.23" y2="614.50" stroke="#6F89BA" stroke-width="1.2" />
<line x1="63.23" y1="633.25" x2="63.23" y2="639.50" stroke="#6F89BA" stroke-width="1.2" />
<rect x="59.43" y="614.50" width="7.60" height="18.75" stroke="#6F89BA" fill="#FCFDFF" stroke-width="1.0" rx="0"/>
<line x1="59.43" y1="619.50" x2="67.03" y2="619.50" stroke="#2C5597" stroke-width="1.4" />
<circle cx="63.23" cy="622.00" r="1.9" fill="#2C5597"/>
<line x1="85.06" y1="587.50" x2="85.06" y2="613.25" stroke="#6F89BA" stroke-width="1.2" />
<line x1="85.06" y1="630.75" x2="85.06" y2="639.50" stroke="#6F89BA" stroke-width="1.2" />
<rect x="81.26" y="613.25" width="7.60" height="17.50" stroke="#6F89BA" fill="#FCFDFF" stroke-width="1.0" rx="0"/>
<line x1="81.26" y1="619.50" x2="88.86" y2="619.50" stroke="#2C5597" stroke-width="1.4" />
<circle cx="85.06" cy="619.50" r="1.9" fill="#2C5597"/>
<line x1="106.89" y1="580.75" x2="106.89" y2="612.00" stroke="#6F89BA" stroke-width="1.2" />
<line x1="106.89" y1="633.25" x2="106.89" y2="639.50" stroke="#6F89BA" stroke-width="1.2" />
<rect x="103.09" y="612.00" width="7.60" height="21.25" stroke="#6F89BA" fill="#FCFDFF" stroke-width="1.0" rx="0"/>
<line x1="103.09" y1="618.75" x2="110.69" y2="618.75" stroke="#2C5597" stroke-width="1.4" />
<circle cx="106.89" cy="618.25" r="1.9" fill="#2C5597"/>
<line x1="128.72" y1="581.40" x2="128.72" y2="607.50" stroke="#6F89BA" stroke-width="1.2" />
<line x1="128.72" y1="625.50" x2="128.72" y2="639.50" stroke="#6F89BA" stroke-width="1.2" />
<rect x="124.92" y="607.50" width="7.60" height="18.00" stroke="#6F89BA" fill="#FCFDFF" stroke-width="1.0" rx="0"/>
<line x1="124.92" y1="620.20" x2="132.52" y2="620.20" stroke="#2C5597" stroke-width="1.4" />
<circle cx="128.72" cy="615.60" r="1.9" fill="#2C5597"/>
<line x1="150.55" y1="577.00" x2="150.55" y2="607.50" stroke="#6F89BA" stroke-width="1.2" />
<line x1="150.55" y1="628.50" x2="150.55" y2="639.50" stroke="#6F89BA" stroke-width="1.2" />
<rect x="146.75" y="607.50" width="7.60" height="21.00" stroke="#6F89BA" fill="#FCFDFF" stroke-width="1.0" rx="0"/>
<line x1="146.75" y1="620.20" x2="154.35" y2="620.20" stroke="#2C5597" stroke-width="1.4" />
<circle cx="150.55" cy="616.40" r="1.9" fill="#2C5597"/>
<line x1="172.38" y1="579.20" x2="172.38" y2="606.70" stroke="#6F89BA" stroke-width="1.2" />
<line x1="172.38" y1="625.50" x2="172.38" y2="639.50" stroke="#6F89BA" stroke-width="1.2" />
<rect x="168.58" y="606.70" width="7.60" height="18.80" stroke="#6F89BA" fill="#FCFDFF" stroke-width="1.0" rx="0"/>
<line x1="168.58" y1="617.50" x2="176.18" y2="617.50" stroke="#2C5597" stroke-width="1.4" />
<circle cx="172.38" cy="615.60" r="1.9" fill="#2C5597"/>
<line x1="194.21" y1="579.20" x2="194.21" y2="606.70" stroke="#6F89BA" stroke-width="1.2" />
<line x1="194.21" y1="625.50" x2="194.21" y2="639.50" stroke="#6F89BA" stroke-width="1.2" />
<rect x="190.41" y="606.70" width="7.60" height="18.80" stroke="#6F89BA" fill="#FCFDFF" stroke-width="1.0" rx="0"/>
<line x1="190.41" y1="617.50" x2="198.01" y2="617.50" stroke="#2C5597" stroke-width="1.4" />
<circle cx="194.21" cy="615.60" r="1.9" fill="#2C5597"/>
<line x1="216.04" y1="576.50" x2="216.04" y2="605.60" stroke="#6F89BA" stroke-width="1.2" />
<line x1="216.04" y1="625.50" x2="216.04" y2="639.50" stroke="#6F89BA" stroke-width="1.2" />
<rect x="212.24" y="605.60" width="7.60" height="19.90" stroke="#6F89BA" fill="#FCFDFF" stroke-width="1.0" rx="0"/>
<line x1="212.24" y1="617.50" x2="219.84" y2="617.50" stroke="#2C5597" stroke-width="1.4" />
<circle cx="216.04" cy="614.20" r="1.9" fill="#2C5597"/>
<line x1="237.87" y1="575.50" x2="237.87" y2="605.40" stroke="#6F89BA" stroke-width="1.2" />
<line x1="237.87" y1="625.50" x2="237.87" y2="639.50" stroke="#6F89BA" stroke-width="1.2" />
<rect x="234.07" y="605.40" width="7.60" height="20.10" stroke="#6F89BA" fill="#FCFDFF" stroke-width="1.0" rx="0"/>
<line x1="234.07" y1="617.50" x2="241.67" y2="617.50" stroke="#2C5597" stroke-width="1.4" />
<circle cx="237.87" cy="613.70" r="1.9" fill="#2C5597"/>
<line x1="32.50" y1="454.50" x2="32.50" y2="648.30" stroke="#262626" stroke-width="1.2" />
<line x1="31.90" y1="648.30" x2="255.60" y2="648.30" stroke="#262626" stroke-width="1.2" />
<line x1="30.50" y1="639.50" x2="32.50" y2="639.50" stroke="#262626" stroke-width="0.9" />
<text x="29.00" y="644.00" font-size="10.5" text-anchor="end" font-weight="normal" fill="#111" stroke="#111" stroke-width="0.3">0</text>
<line x1="30.50" y1="595.50" x2="32.50" y2="595.50" stroke="#262626" stroke-width="0.9" />
<text x="29.00" y="600.00" font-size="10.5" text-anchor="end" font-weight="normal" fill="#111" stroke="#111" stroke-width="0.3">10</text>
<line x1="30.50" y1="551.50" x2="32.50" y2="551.50" stroke="#262626" stroke-width="0.9" />
<text x="29.00" y="556.00" font-size="10.5" text-anchor="end" font-weight="normal" fill="#111" stroke="#111" stroke-width="0.3">20</text>
<line x1="30.50" y1="507.50" x2="32.50" y2="507.50" stroke="#262626" stroke-width="0.9" />
<text x="29.00" y="512.00" font-size="10.5" text-anchor="end" font-weight="normal" fill="#111" stroke="#111" stroke-width="0.3">30</text>
<line x1="30.50" y1="463.50" x2="32.50" y2="463.50" stroke="#262626" stroke-width="0.9" />
<text x="29.00" y="468.00" font-size="10.5" text-anchor="end" font-weight="normal" fill="#111" stroke="#111" stroke-width="0.3">40</text>
<line x1="45.60" y1="648.30" x2="45.60" y2="650.30" stroke="#262626" stroke-width="0.9" />
<text x="45.60" y="659.30" font-size="10.5" text-anchor="middle" font-weight="normal" fill="#111" textLength="24.2" lengthAdjust="spacingAndGlyphs" stroke="#111" stroke-width="0.3">2013</text>
<line x1="67.43" y1="648.30" x2="67.43" y2="650.30" stroke="#262626" stroke-width="0.9" />
<line x1="89.26" y1="648.30" x2="89.26" y2="650.30" stroke="#262626" stroke-width="0.9" />
<text x="89.26" y="659.30" font-size="10.5" text-anchor="middle" font-weight="normal" fill="#111" textLength="24.2" lengthAdjust="spacingAndGlyphs" stroke="#111" stroke-width="0.3">2015</text>
<line x1="111.09" y1="648.30" x2="111.09" y2="650.30" stroke="#262626" stroke-width="0.9" />
<line x1="132.92" y1="648.30" x2="132.92" y2="650.30" stroke="#262626" stroke-width="0.9" />
<text x="132.92" y="659.30" font-size="10.5" text-anchor="middle" font-weight="normal" fill="#111" textLength="24.2" lengthAdjust="spacingAndGlyphs" stroke="#111" stroke-width="0.3">2017</text>
<line x1="154.75" y1="648.30" x2="154.75" y2="650.30" stroke="#262626" stroke-width="0.9" />
<line x1="176.58" y1="648.30" x2="176.58" y2="650.30" stroke="#262626" stroke-width="0.9" />
<text x="176.58" y="659.30" font-size="10.5" text-anchor="middle" font-weight="normal" fill="#111" textLength="24.2" lengthAdjust="spacingAndGlyphs" stroke="#111" stroke-width="0.3">2019</text>
<line x1="198.41" y1="648.30" x2="198.41" y2="650.30" stroke="#262626" stroke-width="0.9" />
<line x1="220.24" y1="648.30" x2="220.24" y2="650.30" stroke="#262626" stroke-width="0.9" />
<text x="220.24" y="659.30" font-size="10.5" text-anchor="middle" font-weight="normal" fill="#111" textLength="24.2" lengthAdjust="spacingAndGlyphs" stroke="#111" stroke-width="0.3">2021</text>
<line x1="242.07" y1="648.30" x2="242.07" y2="650.30" stroke="#262626" stroke-width="0.9" />
<text x="39.70" y="448.00" font-size="7.6" text-anchor="start" font-weight="bold" fill="#000" textLength="15.6" lengthAdjust="spacingAndGlyphs" >CCO</text>
<text x="12.20" y="553.20" font-size="11" text-anchor="middle" font-weight="bold" fill="#000" transform="rotate(-90 12.20 553.20)" textLength="111.3" lengthAdjust="spacingAndGlyphs" >Information Content</text>
<line x1="295.80" y1="194.60" x2="487.00" y2="194.60" stroke="#EDEDED" stroke-width="0.7" />
<line x1="295.80" y1="151.40" x2="487.00" y2="151.40" stroke="#EDEDED" stroke-width="0.7" />
<line x1="295.80" y1="108.20" x2="487.00" y2="108.20" stroke="#EDEDED" stroke-width="0.7" />
<line x1="295.80" y1="65.00" x2="487.00" y2="65.00" stroke="#EDEDED" stroke-width="0.7" />
<line x1="295.80" y1="21.80" x2="487.00" y2="21.80" stroke="#EDEDED" stroke-width="0.7" />
<line x1="305.90" y1="13.50" x2="305.90" y2="203.00" stroke="#EDEDED" stroke-width="0.7" />
<line x1="324.74" y1="13.50" x2="324.74" y2="203.00" stroke="#EDEDED" stroke-width="0.7" />
<line x1="343.58" y1="13.50" x2="343.58" y2="203.00" stroke="#EDEDED" stroke-width="0.7" />
<line x1="362.42" y1="13.50" x2="362.42" y2="203.00" stroke="#EDEDED" stroke-width="0.7" />
<line x1="381.26" y1="13.50" x2="381.26" y2="203.00" stroke="#EDEDED" stroke-width="0.7" />
<line x1="400.10" y1="13.50" x2="400.10" y2="203.00" stroke="#EDEDED" stroke-width="0.7" />
<line x1="418.94" y1="13.50" x2="418.94" y2="203.00" stroke="#EDEDED" stroke-width="0.7" />
<line x1="437.78" y1="13.50" x2="437.78" y2="203.00" stroke="#EDEDED" stroke-width="0.7" />
<line x1="456.62" y1="13.50" x2="456.62" y2="203.00" stroke="#EDEDED" stroke-width="0.7" />
<line x1="475.46" y1="13.50" x2="475.46" y2="203.00" stroke="#EDEDED" stroke-width="0.7" />
<line x1="305.90" y1="16.20" x2="305.90" y2="122.50" stroke="#727272" stroke-width="1.3" />
<line x1="305.90" y1="194.00" x2="305.90" y2="194.30" stroke="#727272" stroke-width="1.3" />
<rect x="298.75" y="122.50" width="14.30" height="71.50" stroke="#7a7a7a" fill="#fff" stroke-width="1.0" rx="0"/>
<line x1="298.75" y1="158.00" x2="313.05" y2="158.00" stroke="#4a4a4a" stroke-width="1.5" />
<circle cx="305.90" cy="143.75" r="2.1" fill="#000"/>
<line x1="324.74" y1="13.50" x2="324.74" y2="119.25" stroke="#727272" stroke-width="1.3" />
<line x1="324.74" y1="194.00" x2="324.74" y2="194.30" stroke="#727272" stroke-width="1.3" />
<rect x="317.59" y="119.25" width="14.30" height="74.75" stroke="#7a7a7a" fill="#fff" stroke-width="1.0" rx="0"/>
<line x1="317.59" y1="155.00" x2="331.89" y2="155.00" stroke="#4a4a4a" stroke-width="1.5" />
<circle cx="324.74" cy="140.25" r="2.1" fill="#000"/>
<line x1="343.58" y1="21.20" x2="343.58" y2="124.25" stroke="#727272" stroke-width="1.3" />
<line x1="343.58" y1="194.00" x2="343.58" y2="194.30" stroke="#727272" stroke-width="1.3" />
<rect x="336.43" y="124.25" width="14.30" height="69.75" stroke="#7a7a7a" fill="#fff" stroke-width="1.0" rx="0"/>
<line x1="336.43" y1="165.00" x2="350.73" y2="165.00" stroke="#4a4a4a" stroke-width="1.5" />
<circle cx="343.58" cy="145.50" r="2.1" fill="#000"/>
<line x1="362.42" y1="13.50" x2="362.42" y2="112.50" stroke="#727272" stroke-width="1.3" />
<line x1="362.42" y1="180.50" x2="362.42" y2="194.30" stroke="#727272" stroke-width="1.3" />
<rect x="355.27" y="112.50" width="14.30" height="68.00" stroke="#7a7a7a" fill="#fff" stroke-width="1.0" rx="0"/>
<line x1="355.27" y1="148.75" x2="369.57" y2="148.75" stroke="#4a4a4a" stroke-width="1.5" />
<circle cx="362.42" cy="134.50" r="2.1" fill="#000"/>
<line x1="381.26" y1="13.50" x2="381.26" y2="117.50" stroke="#727272" stroke-width="1.3" />
<line x1="381.26" y1="194.00" x2="381.26" y2="194.30" stroke="#727272" stroke-width="1.3" />
<rect x="374.11" y="117.50" width="14.30" height="76.50" stroke="#7a7a7a" fill="#fff" stroke-width="1.0" rx="0"/>
<line x1="374.11" y1="155.50" x2="388.41" y2="155.50" stroke="#4a4a4a" stroke-width="1.5" />
<circle cx="381.26" cy="140.00" r="2.1" fill="#000"/>
<line x1="400.10" y1="13.50" x2="400.10" y2="115.50" stroke="#727272" stroke-width="1.3" />
<line x1="400.10" y1="194.00" x2="400.10" y2="194.30" stroke="#727272" stroke-width="1.3" />
<rect x="392.95" y="115.50" width="14.30" height="78.50" stroke="#7a7a7a" fill="#fff" stroke-width="1.0" rx="0"/>
<line x1="392.95" y1="154.50" x2="407.25" y2="154.50" stroke="#4a4a4a" stroke-width="1.5" />
<circle cx="400.10" cy="138.75" r="2.1" fill="#000"/>
<line x1="418.94" y1="13.50" x2="418.94" y2="114.50" stroke="#727272" stroke-width="1.3" />
<line x1="418.94" y1="194.00" x2="418.94" y2="194.30" stroke="#727272" stroke-width="1.3" />
<rect x="411.79" y="114.50" width="14.30" height="79.50" stroke="#7a7a7a" fill="#fff" stroke-width="1.0" rx="0"/>
<line x1="411.79" y1="154.50" x2="426.09" y2="154.50" stroke="#4a4a4a" stroke-width="1.5" />
<circle cx="418.94" cy="138.75" r="2.1" fill="#000"/>
<line x1="437.78" y1="13.50" x2="437.78" y2="121.25" stroke="#727272" stroke-width="1.3" />
<line x1="437.78" y1="194.00" x2="437.78" y2="194.30" stroke="#727272" stroke-width="1.3" />
<rect x="430.63" y="121.25" width="14.30" height="72.75" stroke="#7a7a7a" fill="#fff" stroke-width="1.0" rx="0"/>
<line x1="430.63" y1="165.00" x2="444.93" y2="165.00" stroke="#4a4a4a" stroke-width="1.5" />
<circle cx="437.78" cy="143.75" r="2.1" fill="#000"/>
<line x1="456.62" y1="13.50" x2="456.62" y2="119.25" stroke="#727272" stroke-width="1.3" />
<line x1="456.62" y1="194.00" x2="456.62" y2="194.30" stroke="#727272" stroke-width="1.3" />
<rect x="449.47" y="119.25" width="14.30" height="74.75" stroke="#7a7a7a" fill="#fff" stroke-width="1.0" rx="0"/>
<line x1="449.47" y1="162.00" x2="463.77" y2="162.00" stroke="#4a4a4a" stroke-width="1.5" />
<circle cx="456.62" cy="142.50" r="2.1" fill="#000"/>
<line x1="475.46" y1="13.50" x2="475.46" y2="116.75" stroke="#727272" stroke-width="1.3" />
<line x1="475.46" y1="194.00" x2="475.46" y2="194.30" stroke="#727272" stroke-width="1.3" />
<rect x="468.31" y="116.75" width="14.30" height="77.25" stroke="#7a7a7a" fill="#fff" stroke-width="1.0" rx="0"/>
<line x1="468.31" y1="158.75" x2="482.61" y2="158.75" stroke="#4a4a4a" stroke-width="1.5" />
<circle cx="475.46" cy="140.00" r="2.1" fill="#000"/>
<polyline points="305.90,189.20 324.74,184.40 343.58,183.80 362.42,183.80 381.26,32.70 400.10,35.00 418.94,35.00 437.78,35.00 456.62,35.00 475.46,35.00" fill="none" stroke="#96BE74" stroke-width="1.05" stroke-linejoin="round"/>
<polyline points="305.90,103.60 324.74,103.60 343.58,96.60 362.42,96.60 381.26,71.50 400.10,52.30 418.94,52.20 437.78,52.00 456.62,49.40 475.46,36.60" fill="none" stroke="#ABA07A" stroke-width="1.05" stroke-linejoin="round"/>
<polyline points="305.90,174.80 324.74,65.80 343.58,59.20 362.42,58.80 381.26,62.20 400.10,62.20 418.94,57.70 437.78,54.60 456.62,54.60 475.46,54.80" fill="none" stroke="#4C4CD6" stroke-width="1.25" stroke-linejoin="round"/>
<polyline points="305.90,121.90 324.74,88.20 343.58,88.20 362.42,88.20 381.26,87.90 400.10,87.90 418.94,85.60 437.78,85.00 456.62,85.00 475.46,85.00" fill="none" stroke="#E2506E" stroke-width="1.05" stroke-linejoin="round"/>
<polyline points="343.58,121.90 362.42,111.30 381.26,86.70 400.10,87.00 418.94,86.50 437.78,78.40 456.62,69.20 475.46,59.80" fill="none" stroke="#EE4FA6" stroke-width="1.05" stroke-linejoin="round"/>
<polyline points="305.90,121.90 324.74,121.90 343.58,121.90 362.42,118.50 381.26,97.70 400.10,97.70 418.94,88.60 437.78,88.60 456.62,88.60 475.46,82.00" fill="none" stroke="#A47AEE" stroke-width="1.05" stroke-linejoin="round"/>
<polyline points="305.90,194.40 324.74,188.70 343.58,183.80 362.42,183.80 381.26,84.00 400.10,84.00 418.94,84.00 437.78,84.00 456.62,84.00 475.46,84.00" fill="none" stroke="#56628A" stroke-width="1.05" stroke-linejoin="round"/>
<line x1="474.00" y1="71.50" x2="475.50" y2="84.50" stroke="#E2506E" stroke-width="0.8" />
<rect x="459.20" y="24.70" width="20.40" height="8.50" stroke="#B6D99C" fill="#F6FBF1" stroke-width="0.75" rx="1.6"/>
<text x="469.40" y="31.55" font-size="7.5" text-anchor="middle" font-weight="normal" fill="#86BC5E" textLength="17.2" lengthAdjust="spacingAndGlyphs" stroke="#86BC5E" stroke-width="0.12">DHX9</text>
<rect x="465.80" y="38.30" width="18.90" height="8.50" stroke="#D3CAA6" fill="#FBFAF3" stroke-width="0.75" rx="1.6"/>
<text x="475.25" y="45.15" font-size="7.5" text-anchor="middle" font-weight="normal" fill="#8E8662" textLength="15.7" lengthAdjust="spacingAndGlyphs" stroke="#8E8662" stroke-width="0.12">TP53</text>
<rect x="449.60" y="49.60" width="24.10" height="8.40" stroke="#7C7CDE" fill="#F3F3FF" stroke-width="0.75" rx="1.6"/>
<text x="461.65" y="56.35" font-size="7.5" text-anchor="middle" font-weight="normal" fill="#2E2EC4" textLength="20.9" lengthAdjust="spacingAndGlyphs" stroke="#2E2EC4" stroke-width="0.12">PARK7</text>
<rect x="430.30" y="61.10" width="26.90" height="8.40" stroke="#F29ACA" fill="#FFF0F7" stroke-width="0.75" rx="1.6"/>
<text x="443.75" y="67.85" font-size="7.5" text-anchor="middle" font-weight="normal" fill="#EE3399" textLength="23.7" lengthAdjust="spacingAndGlyphs" stroke="#EE3399" stroke-width="0.12">HSPA1A</text>
<rect x="461.60" y="63.30" width="23.10" height="8.20" stroke="#EE9CAD" fill="#FFF1F3" stroke-width="0.75" rx="1.6"/>
<text x="473.15" y="69.85" font-size="7.5" text-anchor="middle" font-weight="normal" fill="#D8324F" textLength="19.9" lengthAdjust="spacingAndGlyphs" stroke="#D8324F" stroke-width="0.12">LRRK2</text>
<rect x="453.80" y="75.00" width="19.60" height="8.40" stroke="#CBA6F4" fill="#F9F3FF" stroke-width="0.75" rx="1.6"/>
<text x="463.60" y="81.75" font-size="7.5" text-anchor="middle" font-weight="normal" fill="#9147E6" textLength="16.4" lengthAdjust="spacingAndGlyphs" stroke="#9147E6" stroke-width="0.12">ABL1</text>
<rect x="454.60" y="86.60" width="30.10" height="8.20" stroke="#98A0B6" fill="#F5F6F9" stroke-width="0.75" rx="1.6"/>
<text x="469.65" y="93.15" font-size="7.5" text-anchor="middle" font-weight="normal" fill="#1E2844" textLength="26.9" lengthAdjust="spacingAndGlyphs" stroke="#1E2844" stroke-width="0.12">HNRNPU</text>
<line x1="294.80" y1="13.50" x2="294.80" y2="203.00" stroke="#262626" stroke-width="1.2" />
<line x1="487.00" y1="13.50" x2="487.00" y2="203.00" stroke="#262626" stroke-width="1.2" />
<line x1="294.20" y1="203.00" x2="487.60" y2="203.00" stroke="#262626" stroke-width="1.2" />
<line x1="292.80" y1="194.60" x2="294.80" y2="194.60" stroke="#262626" stroke-width="0.9" />
<text x="291.00" y="199.10" font-size="10.5" text-anchor="end" font-weight="normal" fill="#111" stroke="#111" stroke-width="0.3">0</text>
<line x1="292.80" y1="151.40" x2="294.80" y2="151.40" stroke="#262626" stroke-width="0.9" />
<text x="291.00" y="155.90" font-size="10.5" text-anchor="end" font-weight="normal" fill="#111" stroke="#111" stroke-width="0.3">10</text>
<line x1="292.80" y1="108.20" x2="294.80" y2="108.20" stroke="#262626" stroke-width="0.9" />
<text x="291.00" y="112.70" font-size="10.5" text-anchor="end" font-weight="normal" fill="#111" stroke="#111" stroke-width="0.3">20</text>
<line x1="292.80" y1="65.00" x2="294.80" y2="65.00" stroke="#262626" stroke-width="0.9" />
<text x="291.00" y="69.50" font-size="10.5" text-anchor="end" font-weight="normal" fill="#111" stroke="#111" stroke-width="0.3">30</text>
<line x1="292.80" y1="21.80" x2="294.80" y2="21.80" stroke="#262626" stroke-width="0.9" />
<text x="291.00" y="26.30" font-size="10.5" text-anchor="end" font-weight="normal" fill="#111" stroke="#111" stroke-width="0.3">40</text>
<line x1="487.00" y1="194.60" x2="489.00" y2="194.60" stroke="#262626" stroke-width="0.9" />
<text x="490.00" y="199.10" font-size="10.5" text-anchor="start" font-weight="normal" fill="#111" stroke="#111" stroke-width="0.3">0</text>
<line x1="487.00" y1="151.40" x2="489.00" y2="151.40" stroke="#262626" stroke-width="0.9" />
<text x="490.00" y="155.90" font-size="10.5" text-anchor="start" font-weight="normal" fill="#111" stroke="#111" stroke-width="0.3">50</text>
<line x1="487.00" y1="108.20" x2="489.00" y2="108.20" stroke="#262626" stroke-width="0.9" />
<text x="490.00" y="112.70" font-size="10.5" text-anchor="start" font-weight="normal" fill="#111" stroke="#111" stroke-width="0.3">100</text>
<line x1="487.00" y1="65.00" x2="489.00" y2="65.00" stroke="#262626" stroke-width="0.9" />
<text x="490.00" y="69.50" font-size="10.5" text-anchor="start" font-weight="normal" fill="#111" stroke="#111" stroke-width="0.3">150</text>
<line x1="487.00" y1="21.80" x2="489.00" y2="21.80" stroke="#262626" stroke-width="0.9" />
<text x="490.00" y="26.30" font-size="10.5" text-anchor="start" font-weight="normal" fill="#111" stroke="#111" stroke-width="0.3">200</text>
<line x1="305.90" y1="203.00" x2="305.90" y2="205.00" stroke="#262626" stroke-width="0.9" />
<text x="305.90" y="213.80" font-size="10.5" text-anchor="middle" font-weight="normal" fill="#111" textLength="24.2" lengthAdjust="spacingAndGlyphs" stroke="#111" stroke-width="0.3">2013</text>
<line x1="324.74" y1="203.00" x2="324.74" y2="205.00" stroke="#262626" stroke-width="0.9" />
<line x1="343.58" y1="203.00" x2="343.58" y2="205.00" stroke="#262626" stroke-width="0.9" />
<text x="343.58" y="213.80" font-size="10.5" text-anchor="middle" font-weight="normal" fill="#111" textLength="24.2" lengthAdjust="spacingAndGlyphs" stroke="#111" stroke-width="0.3">2015</text>
<line x1="362.42" y1="203.00" x2="362.42" y2="205.00" stroke="#262626" stroke-width="0.9" />
<line x1="381.26" y1="203.00" x2="381.26" y2="205.00" stroke="#262626" stroke-width="0.9" />
<text x="381.26" y="213.80" font-size="10.5" text-anchor="middle" font-weight="normal" fill="#111" textLength="24.2" lengthAdjust="spacingAndGlyphs" stroke="#111" stroke-width="0.3">2017</text>
<line x1="400.10" y1="203.00" x2="400.10" y2="205.00" stroke="#262626" stroke-width="0.9" />
<line x1="418.94" y1="203.00" x2="418.94" y2="205.00" stroke="#262626" stroke-width="0.9" />
<text x="418.94" y="213.80" font-size="10.5" text-anchor="middle" font-weight="normal" fill="#111" textLength="24.2" lengthAdjust="spacingAndGlyphs" stroke="#111" stroke-width="0.3">2019</text>
<line x1="437.78" y1="203.00" x2="437.78" y2="205.00" stroke="#262626" stroke-width="0.9" />
<line x1="456.62" y1="203.00" x2="456.62" y2="205.00" stroke="#262626" stroke-width="0.9" />
<text x="456.62" y="213.80" font-size="10.5" text-anchor="middle" font-weight="normal" fill="#111" textLength="24.2" lengthAdjust="spacingAndGlyphs" stroke="#111" stroke-width="0.3">2021</text>
<line x1="475.46" y1="203.00" x2="475.46" y2="205.00" stroke="#262626" stroke-width="0.9" />
<text x="305.40" y="6.95" font-size="7.6" text-anchor="start" font-weight="bold" fill="#000" textLength="16.8" lengthAdjust="spacingAndGlyphs" >MFO</text>
<text x="274.40" y="109.05" font-size="11" text-anchor="middle" font-weight="bold" fill="#000" transform="rotate(-90 274.40 109.05)" textLength="111.3" lengthAdjust="spacingAndGlyphs" >Information Content</text>
<text x="510.40" y="108.45" font-size="11" text-anchor="middle" font-weight="bold" fill="#000" transform="rotate(90 510.40 108.45)" textLength="148.6" lengthAdjust="spacingAndGlyphs" >Information Content (high)</text>
<line x1="295.80" y1="414.80" x2="487.00" y2="414.80" stroke="#EDEDED" stroke-width="0.7" />
<line x1="295.80" y1="371.70" x2="487.00" y2="371.70" stroke="#EDEDED" stroke-width="0.7" />
<line x1="295.80" y1="328.60" x2="487.00" y2="328.60" stroke="#EDEDED" stroke-width="0.7" />
<line x1="295.80" y1="285.50" x2="487.00" y2="285.50" stroke="#EDEDED" stroke-width="0.7" />
<line x1="295.80" y1="242.40" x2="487.00" y2="242.40" stroke="#EDEDED" stroke-width="0.7" />
<line x1="305.90" y1="233.75" x2="305.90" y2="423.80" stroke="#EDEDED" stroke-width="0.7" />
<line x1="324.74" y1="233.75" x2="324.74" y2="423.80" stroke="#EDEDED" stroke-width="0.7" />
<line x1="343.58" y1="233.75" x2="343.58" y2="423.80" stroke="#EDEDED" stroke-width="0.7" />
<line x1="362.42" y1="233.75" x2="362.42" y2="423.80" stroke="#EDEDED" stroke-width="0.7" />
<line x1="381.26" y1="233.75" x2="381.26" y2="423.80" stroke="#EDEDED" stroke-width="0.7" />
<line x1="400.10" y1="233.75" x2="400.10" y2="423.80" stroke="#EDEDED" stroke-width="0.7" />
<line x1="418.94" y1="233.75" x2="418.94" y2="423.80" stroke="#EDEDED" stroke-width="0.7" />
<line x1="437.78" y1="233.75" x2="437.78" y2="423.80" stroke="#EDEDED" stroke-width="0.7" />
<line x1="456.62" y1="233.75" x2="456.62" y2="423.80" stroke="#EDEDED" stroke-width="0.7" />
<line x1="475.46" y1="233.75" x2="475.46" y2="423.80" stroke="#EDEDED" stroke-width="0.7" />
<line x1="305.90" y1="234.50" x2="305.90" y2="318.00" stroke="#727272" stroke-width="1.3" />
<line x1="305.90" y1="384.60" x2="305.90" y2="414.00" stroke="#727272" stroke-width="1.3" />
<rect x="298.75" y="318.00" width="14.30" height="66.60" stroke="#7a7a7a" fill="#fff" stroke-width="1.0" rx="0"/>
<line x1="298.75" y1="361.80" x2="313.05" y2="361.80" stroke="#4a4a4a" stroke-width="1.5" />
<circle cx="305.90" cy="336.40" r="2.1" fill="#000"/>
<line x1="324.74" y1="234.50" x2="324.74" y2="315.40" stroke="#727272" stroke-width="1.3" />
<line x1="324.74" y1="383.10" x2="324.74" y2="414.00" stroke="#727272" stroke-width="1.3" />
<rect x="317.59" y="315.40" width="14.30" height="67.70" stroke="#7a7a7a" fill="#fff" stroke-width="1.0" rx="0"/>
<line x1="317.59" y1="360.30" x2="331.89" y2="360.30" stroke="#4a4a4a" stroke-width="1.5" />
<circle cx="324.74" cy="335.30" r="2.1" fill="#000"/>
<line x1="343.58" y1="234.50" x2="343.58" y2="311.60" stroke="#727272" stroke-width="1.3" />
<line x1="343.58" y1="381.90" x2="343.58" y2="414.00" stroke="#727272" stroke-width="1.3" />
<rect x="336.43" y="311.60" width="14.30" height="70.30" stroke="#7a7a7a" fill="#fff" stroke-width="1.0" rx="0"/>
<line x1="336.43" y1="357.10" x2="350.73" y2="357.10" stroke="#4a4a4a" stroke-width="1.5" />
<circle cx="343.58" cy="331.30" r="2.1" fill="#000"/>
<line x1="362.42" y1="234.50" x2="362.42" y2="312.30" stroke="#727272" stroke-width="1.3" />
<line x1="362.42" y1="382.10" x2="362.42" y2="414.00" stroke="#727272" stroke-width="1.3" />
<rect x="355.27" y="312.30" width="14.30" height="69.80" stroke="#7a7a7a" fill="#fff" stroke-width="1.0" rx="0"/>
<line x1="355.27" y1="357.50" x2="369.57" y2="357.50" stroke="#4a4a4a" stroke-width="1.5" />
<circle cx="362.42" cy="331.30" r="2.1" fill="#000"/>
<line x1="381.26" y1="234.50" x2="381.26" y2="309.50" stroke="#727272" stroke-width="1.3" />
<line x1="381.26" y1="381.90" x2="381.26" y2="414.00" stroke="#727272" stroke-width="1.3" />
<rect x="374.11" y="309.50" width="14.30" height="72.40" stroke="#7a7a7a" fill="#fff" stroke-width="1.0" rx="0"/>
<line x1="374.11" y1="356.50" x2="388.41" y2="356.50" stroke="#4a4a4a" stroke-width="1.5" />
<circle cx="381.26" cy="329.20" r="2.1" fill="#000"/>
<line x1="400.10" y1="234.50" x2="400.10" y2="308.00" stroke="#727272" stroke-width="1.3" />
<line x1="400.10" y1="381.25" x2="400.10" y2="414.00" stroke="#727272" stroke-width="1.3" />
<rect x="392.95" y="308.00" width="14.30" height="73.25" stroke="#7a7a7a" fill="#fff" stroke-width="1.0" rx="0"/>
<line x1="392.95" y1="355.00" x2="407.25" y2="355.00" stroke="#4a4a4a" stroke-width="1.5" />
<circle cx="400.10" cy="328.00" r="2.1" fill="#000"/>
<line x1="418.94" y1="234.50" x2="418.94" y2="306.25" stroke="#727272" stroke-width="1.3" />
<line x1="418.94" y1="381.25" x2="418.94" y2="414.00" stroke="#727272" stroke-width="1.3" />
<rect x="411.79" y="306.25" width="14.30" height="75.00" stroke="#7a7a7a" fill="#fff" stroke-width="1.0" rx="0"/>
<line x1="411.79" y1="354.25" x2="426.09" y2="354.25" stroke="#4a4a4a" stroke-width="1.5" />
<circle cx="418.94" cy="326.75" r="2.1" fill="#000"/>
<line x1="437.78" y1="234.50" x2="437.78" y2="305.00" stroke="#727272" stroke-width="1.3" />
<line x1="437.78" y1="380.50" x2="437.78" y2="414.00" stroke="#727272" stroke-width="1.3" />
<rect x="430.63" y="305.00" width="14.30" height="75.50" stroke="#7a7a7a" fill="#fff" stroke-width="1.0" rx="0"/>
<line x1="430.63" y1="353.50" x2="444.93" y2="353.50" stroke="#4a4a4a" stroke-width="1.5" />
<circle cx="437.78" cy="325.75" r="2.1" fill="#000"/>
<line x1="456.62" y1="234.50" x2="456.62" y2="303.75" stroke="#727272" stroke-width="1.3" />
<line x1="456.62" y1="380.00" x2="456.62" y2="414.00" stroke="#727272" stroke-width="1.3" />
<rect x="449.47" y="303.75" width="14.30" height="76.25" stroke="#7a7a7a" fill="#fff" stroke-width="1.0" rx="0"/>
<line x1="449.47" y1="353.00" x2="463.77" y2="353.00" stroke="#4a4a4a" stroke-width="1.5" />
<circle cx="456.62" cy="325.00" r="2.1" fill="#000"/>
<line x1="475.46" y1="234.50" x2="475.46" y2="302.00" stroke="#727272" stroke-width="1.3" />
<line x1="475.46" y1="379.50" x2="475.46" y2="414.00" stroke="#727272" stroke-width="1.3" />
<rect x="468.31" y="302.00" width="14.30" height="77.50" stroke="#7a7a7a" fill="#fff" stroke-width="1.0" rx="0"/>
<line x1="468.31" y1="351.25" x2="482.61" y2="351.25" stroke="#4a4a4a" stroke-width="1.5" />
<circle cx="475.46" cy="324.25" r="2.1" fill="#000"/>
<polyline points="305.90,268.70 324.74,260.50 343.58,260.50 362.42,263.70 381.26,259.50 400.10,258.70 418.94,258.70 437.78,258.70 456.62,258.70 475.46,258.70" fill="none" stroke="#96BE74" stroke-width="1.05" stroke-linejoin="round"/>
<polyline points="305.90,275.50 324.74,274.20 343.58,266.20 362.42,257.00 381.26,257.00 400.10,257.30 418.94,258.30 437.78,259.00 456.62,259.30 475.46,259.90" fill="none" stroke="#A47AEE" stroke-width="1.05" stroke-linejoin="round"/>
<polyline points="305.90,347.00 324.74,306.30 343.58,302.10 362.42,310.60 381.26,277.00 400.10,276.90 418.94,276.90 437.78,276.90 456.62,276.90 475.46,271.40" fill="none" stroke="#EE4FA6" stroke-width="1.05" stroke-linejoin="round"/>
<polyline points="305.90,314.80 324.74,314.80 343.58,305.00 362.42,297.30 381.26,297.50 400.10,295.50 418.94,292.00 437.78,271.00 456.62,271.00 475.46,270.50" fill="none" stroke="#ABA07A" stroke-width="1.05" stroke-linejoin="round"/>
<polyline points="305.90,351.40 324.74,319.30 343.58,308.00 362.42,295.30 381.26,295.60 400.10,294.80 418.94,291.90 437.78,291.30 456.62,290.00 475.46,288.60" fill="none" stroke="#4C4CD6" stroke-width="1.25" stroke-linejoin="round"/>
<polyline points="305.90,353.30 324.74,351.20 343.58,341.30 362.42,338.10 381.26,323.30 400.10,306.90 418.94,299.40 437.78,297.70 456.62,297.20 475.46,297.20" fill="none" stroke="#E2506E" stroke-width="1.05" stroke-linejoin="round"/>
<polyline points="305.90,331.30 324.74,331.30 343.58,316.30 362.42,311.10 381.26,307.70 400.10,307.00 418.94,300.20 437.78,299.20 456.62,299.00 475.46,299.00" fill="none" stroke="#56628A" stroke-width="1.05" stroke-linejoin="round"/>
<line x1="460.40" y1="254.50" x2="475.50" y2="259.90" stroke="#A47AEE" stroke-width="0.8" />
<line x1="465.50" y1="282.00" x2="475.50" y2="288.60" stroke="#4C4CD6" stroke-width="0.8" />
<line x1="475.50" y1="277.30" x2="475.50" y2="270.50" stroke="#ABA07A" stroke-width="0.8" />
<rect x="437.00" y="250.10" width="23.40" height="8.00" stroke="#CBA6F4" fill="#F9F3FF" stroke-width="0.75" rx="1.6"/>
<text x="448.70" y="256.45" font-size="7.5" text-anchor="middle" font-weight="normal" fill="#9147E6" textLength="20.2" lengthAdjust="spacingAndGlyphs" stroke="#9147E6" stroke-width="0.12">TGFB1</text>
<rect x="464.30" y="247.10" width="20.10" height="8.00" stroke="#B6D99C" fill="#F6FBF1" stroke-width="0.75" rx="1.6"/>
<text x="474.35" y="253.45" font-size="7.5" text-anchor="middle" font-weight="normal" fill="#86BC5E" textLength="16.9" lengthAdjust="spacingAndGlyphs" stroke="#86BC5E" stroke-width="0.12">BMP4</text>
<rect x="452.60" y="262.10" width="19.60" height="8.10" stroke="#F29ACA" fill="#FFF0F7" stroke-width="0.75" rx="1.6"/>
<text x="462.40" y="268.55" font-size="7.5" text-anchor="middle" font-weight="normal" fill="#EE3399" textLength="16.4" lengthAdjust="spacingAndGlyphs" stroke="#EE3399" stroke-width="0.12">APOE</text>
<rect x="442.60" y="277.30" width="22.90" height="8.10" stroke="#7C7CDE" fill="#F3F3FF" stroke-width="0.75" rx="1.6"/>
<text x="454.05" y="283.75" font-size="7.5" text-anchor="middle" font-weight="normal" fill="#2E2EC4" textLength="19.7" lengthAdjust="spacingAndGlyphs" stroke="#2E2EC4" stroke-width="0.12">LRRK2</text>
<rect x="470.50" y="277.30" width="13.90" height="8.10" stroke="#D3CAA6" fill="#FBFAF3" stroke-width="0.75" rx="1.6"/>
<text x="477.45" y="283.75" font-size="7.5" text-anchor="middle" font-weight="normal" fill="#8E8662" textLength="10.7" lengthAdjust="spacingAndGlyphs" stroke="#8E8662" stroke-width="0.12">TNF</text>
<rect x="454.30" y="288.70" width="19.00" height="8.10" stroke="#EE9CAD" fill="#FFF1F3" stroke-width="0.75" rx="1.6"/>
<text x="463.80" y="295.15" font-size="7.5" text-anchor="middle" font-weight="normal" fill="#D8324F" textLength="15.8" lengthAdjust="spacingAndGlyphs" stroke="#D8324F" stroke-width="0.12">AKT1</text>
<rect x="467.50" y="300.30" width="16.90" height="8.10" stroke="#98A0B6" fill="#F5F6F9" stroke-width="0.75" rx="1.6"/>
<text x="475.95" y="306.75" font-size="7.5" text-anchor="middle" font-weight="normal" fill="#1E2844" textLength="13.7" lengthAdjust="spacingAndGlyphs" stroke="#1E2844" stroke-width="0.12">IGF1</text>
<line x1="294.80" y1="233.75" x2="294.80" y2="423.80" stroke="#262626" stroke-width="1.2" />
<line x1="487.00" y1="233.75" x2="487.00" y2="423.80" stroke="#262626" stroke-width="1.2" />
<line x1="294.20" y1="423.80" x2="487.60" y2="423.80" stroke="#262626" stroke-width="1.2" />
<line x1="292.80" y1="414.80" x2="294.80" y2="414.80" stroke="#262626" stroke-width="0.9" />
<text x="291.00" y="419.30" font-size="10.5" text-anchor="end" font-weight="normal" fill="#111" stroke="#111" stroke-width="0.3">0</text>
<line x1="292.80" y1="371.70" x2="294.80" y2="371.70" stroke="#262626" stroke-width="0.9" />
<text x="291.00" y="376.20" font-size="10.5" text-anchor="end" font-weight="normal" fill="#111" stroke="#111" stroke-width="0.3">20</text>
<line x1="292.80" y1="328.60" x2="294.80" y2="328.60" stroke="#262626" stroke-width="0.9" />
<text x="291.00" y="333.10" font-size="10.5" text-anchor="end" font-weight="normal" fill="#111" stroke="#111" stroke-width="0.3">40</text>
<line x1="292.80" y1="285.50" x2="294.80" y2="285.50" stroke="#262626" stroke-width="0.9" />
<text x="291.00" y="290.00" font-size="10.5" text-anchor="end" font-weight="normal" fill="#111" stroke="#111" stroke-width="0.3">60</text>
<line x1="292.80" y1="242.40" x2="294.80" y2="242.40" stroke="#262626" stroke-width="0.9" />
<text x="291.00" y="246.90" font-size="10.5" text-anchor="end" font-weight="normal" fill="#111" stroke="#111" stroke-width="0.3">80</text>
<line x1="487.00" y1="414.80" x2="489.00" y2="414.80" stroke="#262626" stroke-width="0.9" />
<text x="490.00" y="419.30" font-size="10.5" text-anchor="start" font-weight="normal" fill="#111" stroke="#111" stroke-width="0.3">0</text>
<line x1="487.00" y1="357.30" x2="489.00" y2="357.30" stroke="#262626" stroke-width="0.9" />
<text x="490.00" y="361.80" font-size="10.5" text-anchor="start" font-weight="normal" fill="#111" stroke="#111" stroke-width="0.3">200</text>
<line x1="487.00" y1="299.90" x2="489.00" y2="299.90" stroke="#262626" stroke-width="0.9" />
<text x="490.00" y="304.40" font-size="10.5" text-anchor="start" font-weight="normal" fill="#111" stroke="#111" stroke-width="0.3">400</text>
<line x1="487.00" y1="242.40" x2="489.00" y2="242.40" stroke="#262626" stroke-width="0.9" />
<text x="490.00" y="246.90" font-size="10.5" text-anchor="start" font-weight="normal" fill="#111" stroke="#111" stroke-width="0.3">600</text>
<line x1="305.90" y1="423.80" x2="305.90" y2="425.80" stroke="#262626" stroke-width="0.9" />
<text x="305.90" y="434.70" font-size="10.5" text-anchor="middle" font-weight="normal" fill="#111" textLength="24.2" lengthAdjust="spacingAndGlyphs" stroke="#111" stroke-width="0.3">2013</text>
<line x1="324.74" y1="423.80" x2="324.74" y2="425.80" stroke="#262626" stroke-width="0.9" />
<line x1="343.58" y1="423.80" x2="343.58" y2="425.80" stroke="#262626" stroke-width="0.9" />
<text x="343.58" y="434.70" font-size="10.5" text-anchor="middle" font-weight="normal" fill="#111" textLength="24.2" lengthAdjust="spacingAndGlyphs" stroke="#111" stroke-width="0.3">2015</text>
<line x1="362.42" y1="423.80" x2="362.42" y2="425.80" stroke="#262626" stroke-width="0.9" />
<line x1="381.26" y1="423.80" x2="381.26" y2="425.80" stroke="#262626" stroke-width="0.9" />
<text x="381.26" y="434.70" font-size="10.5" text-anchor="middle" font-weight="normal" fill="#111" textLength="24.2" lengthAdjust="spacingAndGlyphs" stroke="#111" stroke-width="0.3">2017</text>
<line x1="400.10" y1="423.80" x2="400.10" y2="425.80" stroke="#262626" stroke-width="0.9" />
<line x1="418.94" y1="423.80" x2="418.94" y2="425.80" stroke="#262626" stroke-width="0.9" />
<text x="418.94" y="434.70" font-size="10.5" text-anchor="middle" font-weight="normal" fill="#111" textLength="24.2" lengthAdjust="spacingAndGlyphs" stroke="#111" stroke-width="0.3">2019</text>
<line x1="437.78" y1="423.80" x2="437.78" y2="425.80" stroke="#262626" stroke-width="0.9" />
<line x1="456.62" y1="423.80" x2="456.62" y2="425.80" stroke="#262626" stroke-width="0.9" />
<text x="456.62" y="434.70" font-size="10.5" text-anchor="middle" font-weight="normal" fill="#111" textLength="24.2" lengthAdjust="spacingAndGlyphs" stroke="#111" stroke-width="0.3">2021</text>
<line x1="475.46" y1="423.80" x2="475.46" y2="425.80" stroke="#262626" stroke-width="0.9" />
<text x="302.60" y="227.30" font-size="7.6" text-anchor="start" font-weight="bold" fill="#000" textLength="15.1" lengthAdjust="spacingAndGlyphs" >BPO</text>
<text x="274.40" y="329.40" font-size="11" text-anchor="middle" font-weight="bold" fill="#000" transform="rotate(-90 274.40 329.40)" textLength="111.3" lengthAdjust="spacingAndGlyphs" >Information Content</text>
<text x="510.40" y="328.80" font-size="11" text-anchor="middle" font-weight="bold" fill="#000" transform="rotate(90 510.40 328.80)" textLength="148.6" lengthAdjust="spacingAndGlyphs" >Information Content (high)</text>
<line x1="295.80" y1="634.90" x2="487.00" y2="634.90" stroke="#EDEDED" stroke-width="0.7" />
<line x1="295.80" y1="591.50" x2="487.00" y2="591.50" stroke="#EDEDED" stroke-width="0.7" />
<line x1="295.80" y1="548.10" x2="487.00" y2="548.10" stroke="#EDEDED" stroke-width="0.7" />
<line x1="295.80" y1="504.70" x2="487.00" y2="504.70" stroke="#EDEDED" stroke-width="0.7" />
<line x1="295.80" y1="461.30" x2="487.00" y2="461.30" stroke="#EDEDED" stroke-width="0.7" />
<line x1="305.90" y1="453.75" x2="305.90" y2="643.30" stroke="#EDEDED" stroke-width="0.7" />
<line x1="324.74" y1="453.75" x2="324.74" y2="643.30" stroke="#EDEDED" stroke-width="0.7" />
<line x1="343.58" y1="453.75" x2="343.58" y2="643.30" stroke="#EDEDED" stroke-width="0.7" />
<line x1="362.42" y1="453.75" x2="362.42" y2="643.30" stroke="#EDEDED" stroke-width="0.7" />
<line x1="381.26" y1="453.75" x2="381.26" y2="643.30" stroke="#EDEDED" stroke-width="0.7" />
<line x1="400.10" y1="453.75" x2="400.10" y2="643.30" stroke="#EDEDED" stroke-width="0.7" />
<line x1="418.94" y1="453.75" x2="418.94" y2="643.30" stroke="#EDEDED" stroke-width="0.7" />
<line x1="437.78" y1="453.75" x2="437.78" y2="643.30" stroke="#EDEDED" stroke-width="0.7" />
<line x1="456.62" y1="453.75" x2="456.62" y2="643.30" stroke="#EDEDED" stroke-width="0.7" />
<line x1="475.46" y1="453.75" x2="475.46" y2="643.30" stroke="#EDEDED" stroke-width="0.7" />
<line x1="305.90" y1="511.75" x2="305.90" y2="580.70" stroke="#727272" stroke-width="1.3" />
<line x1="305.90" y1="626.80" x2="305.90" y2="632.80" stroke="#727272" stroke-width="1.3" />
<rect x="298.75" y="580.70" width="14.30" height="46.10" stroke="#7a7a7a" fill="#fff" stroke-width="1.0" rx="0"/>
<line x1="298.75" y1="610.30" x2="313.05" y2="610.30" stroke="#4a4a4a" stroke-width="1.5" />
<circle cx="305.90" cy="596.20" r="2.1" fill="#000"/>
<line x1="324.74" y1="516.25" x2="324.74" y2="579.20" stroke="#727272" stroke-width="1.3" />
<line x1="324.74" y1="620.50" x2="324.74" y2="632.80" stroke="#727272" stroke-width="1.3" />
<rect x="317.59" y="579.20" width="14.30" height="41.30" stroke="#7a7a7a" fill="#fff" stroke-width="1.0" rx="0"/>
<line x1="317.59" y1="610.30" x2="331.89" y2="610.30" stroke="#4a4a4a" stroke-width="1.5" />
<circle cx="324.74" cy="594.00" r="2.1" fill="#000"/>
<line x1="343.58" y1="510.00" x2="343.58" y2="577.10" stroke="#727272" stroke-width="1.3" />
<line x1="343.58" y1="619.00" x2="343.58" y2="632.80" stroke="#727272" stroke-width="1.3" />
<rect x="336.43" y="577.10" width="14.30" height="41.90" stroke="#7a7a7a" fill="#fff" stroke-width="1.0" rx="0"/>
<line x1="336.43" y1="609.30" x2="350.73" y2="609.30" stroke="#4a4a4a" stroke-width="1.5" />
<circle cx="343.58" cy="591.90" r="2.1" fill="#000"/>
<line x1="362.42" y1="487.50" x2="362.42" y2="564.40" stroke="#727272" stroke-width="1.3" />
<line x1="362.42" y1="615.80" x2="362.42" y2="632.80" stroke="#727272" stroke-width="1.3" />
<rect x="355.27" y="564.40" width="14.30" height="51.40" stroke="#7a7a7a" fill="#fff" stroke-width="1.0" rx="0"/>
<line x1="355.27" y1="600.40" x2="369.57" y2="600.40" stroke="#4a4a4a" stroke-width="1.5" />
<circle cx="362.42" cy="584.50" r="2.1" fill="#000"/>
<line x1="381.26" y1="479.40" x2="381.26" y2="561.30" stroke="#727272" stroke-width="1.3" />
<line x1="381.26" y1="615.80" x2="381.26" y2="632.80" stroke="#727272" stroke-width="1.3" />
<rect x="374.11" y="561.30" width="14.30" height="54.50" stroke="#7a7a7a" fill="#fff" stroke-width="1.0" rx="0"/>
<line x1="374.11" y1="597.90" x2="388.41" y2="597.90" stroke="#4a4a4a" stroke-width="1.5" />
<circle cx="381.26" cy="582.00" r="2.1" fill="#000"/>
<line x1="400.10" y1="477.60" x2="400.10" y2="560.50" stroke="#727272" stroke-width="1.3" />
<line x1="400.10" y1="615.50" x2="400.10" y2="632.80" stroke="#727272" stroke-width="1.3" />
<rect x="392.95" y="560.50" width="14.30" height="55.00" stroke="#7a7a7a" fill="#fff" stroke-width="1.0" rx="0"/>
<line x1="392.95" y1="596.25" x2="407.25" y2="596.25" stroke="#4a4a4a" stroke-width="1.5" />
<circle cx="400.10" cy="581.25" r="2.1" fill="#000"/>
<line x1="418.94" y1="473.90" x2="418.94" y2="558.75" stroke="#727272" stroke-width="1.3" />
<line x1="418.94" y1="615.50" x2="418.94" y2="632.80" stroke="#727272" stroke-width="1.3" />
<rect x="411.79" y="558.75" width="14.30" height="56.75" stroke="#7a7a7a" fill="#fff" stroke-width="1.0" rx="0"/>
<line x1="411.79" y1="595.00" x2="426.09" y2="595.00" stroke="#4a4a4a" stroke-width="1.5" />
<circle cx="418.94" cy="580.00" r="2.1" fill="#000"/>
<line x1="437.78" y1="469.50" x2="437.78" y2="557.00" stroke="#727272" stroke-width="1.3" />
<line x1="437.78" y1="615.50" x2="437.78" y2="632.80" stroke="#727272" stroke-width="1.3" />
<rect x="430.63" y="557.00" width="14.30" height="58.50" stroke="#7a7a7a" fill="#fff" stroke-width="1.0" rx="0"/>
<line x1="430.63" y1="593.75" x2="444.93" y2="593.75" stroke="#4a4a4a" stroke-width="1.5" />
<circle cx="437.78" cy="579.25" r="2.1" fill="#000"/>
<line x1="456.62" y1="469.50" x2="456.62" y2="557.00" stroke="#727272" stroke-width="1.3" />
<line x1="456.62" y1="615.50" x2="456.62" y2="632.80" stroke="#727272" stroke-width="1.3" />
<rect x="449.47" y="557.00" width="14.30" height="58.50" stroke="#7a7a7a" fill="#fff" stroke-width="1.0" rx="0"/>
<line x1="449.47" y1="593.75" x2="463.77" y2="593.75" stroke="#4a4a4a" stroke-width="1.5" />
<circle cx="456.62" cy="579.50" r="2.1" fill="#000"/>
<line x1="475.46" y1="462.20" x2="475.46" y2="553.00" stroke="#727272" stroke-width="1.3" />
<line x1="475.46" y1="613.75" x2="475.46" y2="632.80" stroke="#727272" stroke-width="1.3" />
<rect x="468.31" y="553.00" width="14.30" height="60.75" stroke="#7a7a7a" fill="#fff" stroke-width="1.0" rx="0"/>
<line x1="468.31" y1="590.75" x2="482.61" y2="590.75" stroke="#4a4a4a" stroke-width="1.5" />
<circle cx="475.46" cy="576.75" r="2.1" fill="#000"/>
<polyline points="305.90,530.20 324.74,514.50 343.58,514.50 362.42,503.00 381.26,511.20 400.10,526.30 418.94,526.30 437.78,526.30 456.62,526.30 475.46,526.30" fill="none" stroke="#96BE74" stroke-width="1.05" stroke-linejoin="round"/>
<polyline points="305.90,596.20 324.74,588.80 343.58,541.20 362.42,534.40 381.26,533.80 400.10,526.30 418.94,526.30 437.78,526.30 456.62,526.30 475.46,526.30" fill="none" stroke="#A47AEE" stroke-width="1.05" stroke-linejoin="round"/>
<polyline points="400.10,526.10 418.94,526.10 437.78,526.10 456.62,526.10 475.46,526.10" fill="none" stroke="#C6C0C4" stroke-width="1.5" stroke-linejoin="round"/>
<polyline points="305.90,578.80 324.74,561.30 343.58,541.20 362.42,483.70 381.26,483.20 400.10,483.20 418.94,474.80 437.78,474.80 456.62,477.60 475.46,477.60" fill="none" stroke="#4C4CD6" stroke-width="1.25" stroke-linejoin="round"/>
<polyline points="305.90,567.00 324.74,562.30 343.58,549.20 362.42,549.20 381.26,549.20 400.10,549.20 418.94,527.20 437.78,527.20 456.62,527.20 475.46,527.40" fill="none" stroke="#E2506E" stroke-width="1.05" stroke-linejoin="round"/>
<polyline points="305.90,605.70 324.74,565.50 343.58,565.10 362.42,559.10 381.26,559.10 400.10,540.70 418.94,537.80 437.78,537.80 456.62,537.80 475.46,537.80" fill="none" stroke="#ABA07A" stroke-width="1.05" stroke-linejoin="round"/>
<polyline points="305.90,587.70 324.74,580.30 343.58,564.80 362.42,564.40 381.26,533.20 400.10,533.20 418.94,533.20 437.78,533.20 456.62,533.20 475.46,533.20" fill="none" stroke="#E265D6" stroke-width="1.5" stroke-linejoin="round"/>
<polyline points="305.90,555.50 324.74,551.30 343.58,534.40 362.42,534.40 381.26,534.60 400.10,534.60 418.94,534.60 437.78,534.60 456.62,534.60 475.46,534.60" fill="none" stroke="#56628A" stroke-width="0.9" stroke-linejoin="round"/>
<line x1="458.00" y1="513.30" x2="475.50" y2="527.40" stroke="#E2506E" stroke-width="0.8" />
<line x1="475.30" y1="513.30" x2="475.30" y2="531.00" stroke="#96BE74" stroke-width="0.8" />
<line x1="473.20" y1="523.50" x2="475.50" y2="533.80" stroke="#EE4FA6" stroke-width="0.8" />
<rect x="449.60" y="479.60" width="23.60" height="8.00" stroke="#7C7CDE" fill="#F3F3FF" stroke-width="0.75" rx="1.6"/>
<text x="461.40" y="485.95" font-size="7.5" text-anchor="middle" font-weight="normal" fill="#2E2EC4" textLength="20.4" lengthAdjust="spacingAndGlyphs" stroke="#2E2EC4" stroke-width="0.12">LRRK2</text>
<rect x="436.80" y="505.30" width="23.60" height="8.00" stroke="#EE9CAD" fill="#FFF1F3" stroke-width="0.75" rx="1.6"/>
<text x="448.60" y="511.65" font-size="7.5" text-anchor="middle" font-weight="normal" fill="#D8324F" textLength="20.4" lengthAdjust="spacingAndGlyphs" stroke="#D8324F" stroke-width="0.12">PSEN1</text>
<rect x="463.70" y="505.30" width="20.60" height="8.00" stroke="#B6D99C" fill="#F6FBF1" stroke-width="0.75" rx="1.6"/>
<text x="474.00" y="511.65" font-size="7.5" text-anchor="middle" font-weight="normal" fill="#86BC5E" textLength="17.4" lengthAdjust="spacingAndGlyphs" stroke="#86BC5E" stroke-width="0.12">MYH9</text>
<rect x="426.00" y="517.00" width="22.90" height="8.10" stroke="#CBA6F4" fill="#F9F3FF" stroke-width="0.75" rx="1.6"/>
<text x="437.45" y="523.45" font-size="7.5" text-anchor="middle" font-weight="normal" fill="#9147E6" textLength="19.7" lengthAdjust="spacingAndGlyphs" stroke="#9147E6" stroke-width="0.12">FLOT1</text>
<rect x="452.30" y="517.00" width="20.90" height="8.10" stroke="#F29ACA" fill="#FFF0F7" stroke-width="0.75" rx="1.6"/>
<text x="462.75" y="523.45" font-size="7.5" text-anchor="middle" font-weight="normal" fill="#EE3399" textLength="17.7" lengthAdjust="spacingAndGlyphs" stroke="#EE3399" stroke-width="0.12">MAPT</text>
<rect x="444.20" y="528.60" width="29.00" height="8.00" stroke="#98A0B6" fill="#F5F6F9" stroke-width="0.75" rx="1.6"/>
<text x="458.70" y="534.95" font-size="7.5" text-anchor="middle" font-weight="normal" fill="#1E2844" textLength="25.8" lengthAdjust="spacingAndGlyphs" stroke="#1E2844" stroke-width="0.12">CTNNB1</text>
<rect x="463.70" y="540.00" width="20.60" height="8.10" stroke="#D3CAA6" fill="#FBFAF3" stroke-width="0.75" rx="1.6"/>
<text x="474.00" y="546.45" font-size="7.5" text-anchor="middle" font-weight="normal" fill="#8E8662" textLength="17.4" lengthAdjust="spacingAndGlyphs" stroke="#8E8662" stroke-width="0.12">ITGB3</text>
<line x1="294.80" y1="453.75" x2="294.80" y2="643.30" stroke="#262626" stroke-width="1.2" />
<line x1="487.00" y1="453.75" x2="487.00" y2="643.30" stroke="#262626" stroke-width="1.2" />
<line x1="294.20" y1="643.30" x2="487.60" y2="643.30" stroke="#262626" stroke-width="1.2" />
<line x1="292.80" y1="634.90" x2="294.80" y2="634.90" stroke="#262626" stroke-width="0.9" />
<text x="291.00" y="639.40" font-size="10.5" text-anchor="end" font-weight="normal" fill="#111" stroke="#111" stroke-width="0.3">0</text>
<line x1="292.80" y1="591.50" x2="294.80" y2="591.50" stroke="#262626" stroke-width="0.9" />
<text x="291.00" y="596.00" font-size="10.5" text-anchor="end" font-weight="normal" fill="#111" stroke="#111" stroke-width="0.3">10</text>
<line x1="292.80" y1="548.10" x2="294.80" y2="548.10" stroke="#262626" stroke-width="0.9" />
<text x="291.00" y="552.60" font-size="10.5" text-anchor="end" font-weight="normal" fill="#111" stroke="#111" stroke-width="0.3">20</text>
<line x1="292.80" y1="504.70" x2="294.80" y2="504.70" stroke="#262626" stroke-width="0.9" />
<text x="291.00" y="509.20" font-size="10.5" text-anchor="end" font-weight="normal" fill="#111" stroke="#111" stroke-width="0.3">30</text>
<line x1="292.80" y1="461.30" x2="294.80" y2="461.30" stroke="#262626" stroke-width="0.9" />
<text x="291.00" y="465.80" font-size="10.5" text-anchor="end" font-weight="normal" fill="#111" stroke="#111" stroke-width="0.3">40</text>
<line x1="487.00" y1="634.90" x2="489.00" y2="634.90" stroke="#262626" stroke-width="0.9" />
<text x="490.00" y="639.40" font-size="10.5" text-anchor="start" font-weight="normal" fill="#111" stroke="#111" stroke-width="0.3">0</text>
<line x1="487.00" y1="581.10" x2="489.00" y2="581.10" stroke="#262626" stroke-width="0.9" />
<text x="490.00" y="585.60" font-size="10.5" text-anchor="start" font-weight="normal" fill="#111" stroke="#111" stroke-width="0.3">50</text>
<line x1="487.00" y1="527.30" x2="489.00" y2="527.30" stroke="#262626" stroke-width="0.9" />
<text x="490.00" y="531.80" font-size="10.5" text-anchor="start" font-weight="normal" fill="#111" stroke="#111" stroke-width="0.3">100</text>
<line x1="487.00" y1="473.50" x2="489.00" y2="473.50" stroke="#262626" stroke-width="0.9" />
<text x="490.00" y="478.00" font-size="10.5" text-anchor="start" font-weight="normal" fill="#111" stroke="#111" stroke-width="0.3">150</text>
<line x1="305.90" y1="643.30" x2="305.90" y2="645.30" stroke="#262626" stroke-width="0.9" />
<text x="305.90" y="654.50" font-size="10.5" text-anchor="middle" font-weight="normal" fill="#111" textLength="24.2" lengthAdjust="spacingAndGlyphs" stroke="#111" stroke-width="0.3">2013</text>
<line x1="324.74" y1="643.30" x2="324.74" y2="645.30" stroke="#262626" stroke-width="0.9" />
<line x1="343.58" y1="643.30" x2="343.58" y2="645.30" stroke="#262626" stroke-width="0.9" />
<text x="343.58" y="654.50" font-size="10.5" text-anchor="middle" font-weight="normal" fill="#111" textLength="24.2" lengthAdjust="spacingAndGlyphs" stroke="#111" stroke-width="0.3">2015</text>
<line x1="362.42" y1="643.30" x2="362.42" y2="645.30" stroke="#262626" stroke-width="0.9" />
<line x1="381.26" y1="643.30" x2="381.26" y2="645.30" stroke="#262626" stroke-width="0.9" />
<text x="381.26" y="654.50" font-size="10.5" text-anchor="middle" font-weight="normal" fill="#111" textLength="24.2" lengthAdjust="spacingAndGlyphs" stroke="#111" stroke-width="0.3">2017</text>
<line x1="400.10" y1="643.30" x2="400.10" y2="645.30" stroke="#262626" stroke-width="0.9" />
<line x1="418.94" y1="643.30" x2="418.94" y2="645.30" stroke="#262626" stroke-width="0.9" />
<text x="418.94" y="654.50" font-size="10.5" text-anchor="middle" font-weight="normal" fill="#111" textLength="24.2" lengthAdjust="spacingAndGlyphs" stroke="#111" stroke-width="0.3">2019</text>
<line x1="437.78" y1="643.30" x2="437.78" y2="645.30" stroke="#262626" stroke-width="0.9" />
<line x1="456.62" y1="643.30" x2="456.62" y2="645.30" stroke="#262626" stroke-width="0.9" />
<text x="456.62" y="654.50" font-size="10.5" text-anchor="middle" font-weight="normal" fill="#111" textLength="24.2" lengthAdjust="spacingAndGlyphs" stroke="#111" stroke-width="0.3">2021</text>
<line x1="475.46" y1="643.30" x2="475.46" y2="645.30" stroke="#262626" stroke-width="0.9" />
<text x="301.70" y="448.00" font-size="7.6" text-anchor="start" font-weight="bold" fill="#000" textLength="15.6" lengthAdjust="spacingAndGlyphs" >CCO</text>
<text x="274.40" y="549.10" font-size="11" text-anchor="middle" font-weight="bold" fill="#000" transform="rotate(-90 274.40 549.10)" textLength="111.3" lengthAdjust="spacingAndGlyphs" >Information Content</text>
<text x="510.40" y="548.50" font-size="11" text-anchor="middle" font-weight="bold" fill="#000" transform="rotate(90 510.40 548.50)" textLength="148.6" lengthAdjust="spacingAndGlyphs" >Information Content (high)</text>
<text x="1.60" y="12.70" font-size="17" text-anchor="start" font-weight="bold" fill="#000" >a</text>
<text x="263.50" y="12.70" font-size="17" text-anchor="start" font-weight="bold" fill="#000" >b</text>
<line x1="22.40" y1="675.00" x2="22.40" y2="681.40" stroke="#3F70BC" stroke-width="1.2" />
<line x1="24.66" y1="675.94" x2="20.14" y2="680.46" stroke="#3F70BC" stroke-width="1.2" />
<line x1="25.60" y1="678.20" x2="19.20" y2="678.20" stroke="#3F70BC" stroke-width="1.2" />
<line x1="24.66" y1="680.46" x2="20.14" y2="675.94" stroke="#3F70BC" stroke-width="1.2" />
<line x1="22.40" y1="683.60" x2="22.40" y2="690.00" stroke="#F08A3C" stroke-width="1.2" />
<line x1="24.66" y1="684.54" x2="20.14" y2="689.06" stroke="#F08A3C" stroke-width="1.2" />
<line x1="25.60" y1="686.80" x2="19.20" y2="686.80" stroke="#F08A3C" stroke-width="1.2" />
<line x1="24.66" y1="689.06" x2="20.14" y2="684.54" stroke="#F08A3C" stroke-width="1.2" />
<text x="29.60" y="682.00" font-size="9.7" text-anchor="start" font-weight="normal" fill="#111" textLength="270.8" lengthAdjust="spacingAndGlyphs" stroke="#111" stroke-width="0.2">High-throughput experiment, &gt; 100 proteins per article</text>
<text x="29.60" y="690.80" font-size="9.7" text-anchor="start" font-weight="normal" fill="#111" textLength="268.6" lengthAdjust="spacingAndGlyphs" stroke="#111" stroke-width="0.2">Low-throughput experiment, ≤ 100 proteins per article</text></svg>
</body></html>
